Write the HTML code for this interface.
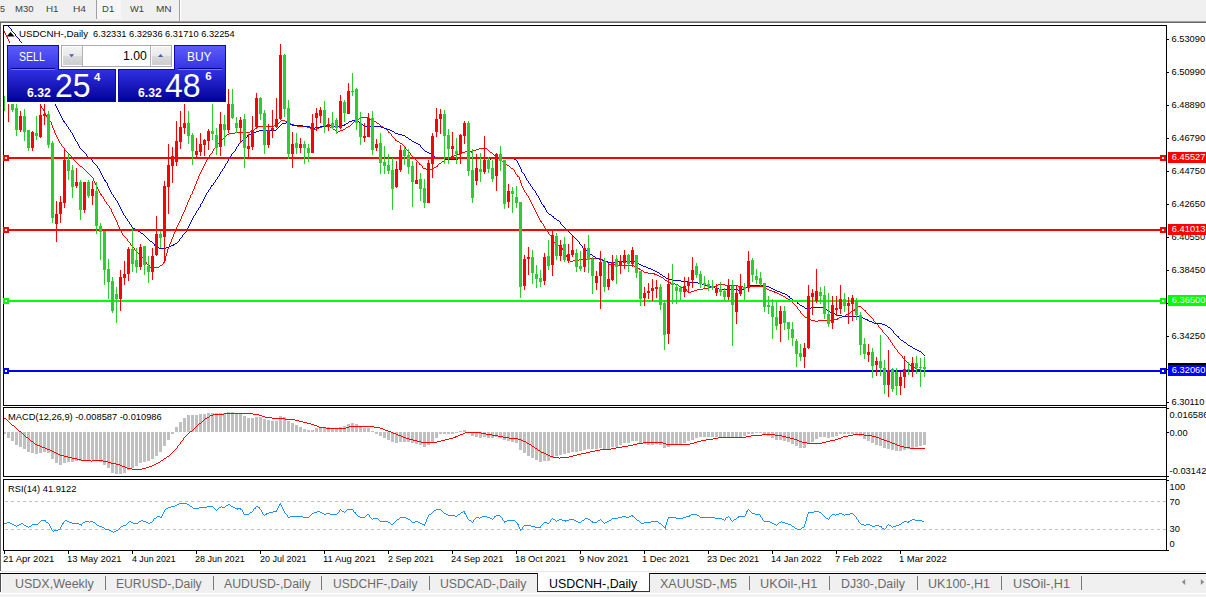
<!DOCTYPE html><html><head><meta charset="utf-8"><title>chart</title><style>
html,body{margin:0;padding:0;}
body{width:1206px;height:597px;overflow:hidden;background:#f0f0f0;font-family:"Liberation Sans",sans-serif;position:relative;}
.t{position:absolute;white-space:nowrap;line-height:1;}
.tb{font-size:9.3px;color:#404040;top:5.4px;}
.ax{font-size:9.3px;color:#000;left:1171.5px;}
.dt{font-size:9.2px;color:#000;top:555.4px;}
.tab{font-size:12px;color:#6a6a6a;top:578.4px;}
.sep{position:absolute;top:576px;width:1px;height:14px;background:#777;}
svg{position:absolute;left:0;top:0;}
</style></head><body>
<div style="position:absolute;left:0;top:0;width:1206px;height:21px;background:#f0f0f0"></div>
<div style="position:absolute;left:97px;top:0;width:24px;height:19px;background:#f6f6f6"></div>
<div style="position:absolute;left:96px;top:0;width:1px;height:19px;background:#a0a0a0"></div>
<div style="position:absolute;left:179px;top:0;width:1px;height:21px;background:#a0a0a0"></div>
<div style="position:absolute;left:180px;top:0;width:1px;height:21px;background:#fff"></div>
<div class="t" style="left:0.3px;top:5.4px;font-size:9.3px;color:#404040;transform-origin:0 0;transform:scaleX(0.9651);">5</div>
<div class="t" style="left:15.05px;top:5.4px;font-size:9.3px;color:#404040;transform-origin:0 0;transform:scaleX(1.0265);">M30</div>
<div class="t" style="left:46.05px;top:5.4px;font-size:9.3px;color:#404040;transform-origin:0 0;transform:scaleX(1.0561);">H1</div>
<div class="t" style="left:73.05px;top:5.4px;font-size:9.3px;color:#404040;transform-origin:0 0;transform:scaleX(1.0935);">H4</div>
<div class="t" style="left:102.15px;top:5.4px;font-size:9.3px;color:#404040;transform-origin:0 0;transform:scaleX(1.0281);">D1</div>
<div class="t" style="left:130.2px;top:5.4px;font-size:9.3px;color:#404040;transform-origin:0 0;transform:scaleX(1.0074);">W1</div>
<div class="t" style="left:156.25px;top:5.4px;font-size:9.3px;color:#404040;transform-origin:0 0;transform:scaleX(1.0809);">MN</div>
<div style="position:absolute;left:0;top:21px;width:1206px;height:1px;background:#a0a0a0"></div>
<div style="position:absolute;left:0;top:22px;width:1206px;height:1px;background:#696969"></div>
<div style="position:absolute;left:1px;top:23px;width:1205px;height:548px;background:#fff"></div>
<div style="position:absolute;left:0;top:22px;width:1px;height:549px;background:#696969"></div>
<svg width="1206" height="597" viewBox="0 0 1206 597" shape-rendering="crispEdges">
<rect x="3" y="25" width="1164" height="1" fill="#000"/>
<rect x="3" y="25" width="1" height="381" fill="#000"/>
<rect x="3" y="405" width="1164" height="1" fill="#000"/>
<rect x="1166" y="25" width="1" height="526" fill="#000"/>
<rect x="3" y="407" width="1164" height="1" fill="#000"/>
<rect x="3" y="407" width="1" height="70" fill="#000"/>
<rect x="3" y="476" width="1164" height="1" fill="#000"/>
<rect x="3" y="479" width="1164" height="1" fill="#000"/>
<rect x="3" y="479" width="1" height="72" fill="#000"/>
<rect x="3" y="550" width="1164" height="1" fill="#000"/>
<rect x="1167" y="39" width="2" height="1" fill="#000"/>
<rect x="1167" y="72" width="2" height="1" fill="#000"/>
<rect x="1167" y="105" width="2" height="1" fill="#000"/>
<rect x="1167" y="138" width="2" height="1" fill="#000"/>
<rect x="1167" y="171" width="2" height="1" fill="#000"/>
<rect x="1167" y="204" width="2" height="1" fill="#000"/>
<rect x="1167" y="237" width="2" height="1" fill="#000"/>
<rect x="1167" y="270" width="2" height="1" fill="#000"/>
<rect x="1167" y="303" width="2" height="1" fill="#000"/>
<rect x="1167" y="336" width="2" height="1" fill="#000"/>
<rect x="1167" y="369" width="2" height="1" fill="#000"/>
<rect x="1167" y="402" width="2" height="1" fill="#000"/>
<rect x="1167" y="408" width="2" height="1" fill="#000"/>
<rect x="1167" y="432" width="2" height="1" fill="#000"/>
<rect x="1167" y="476" width="2" height="1" fill="#000"/>
<rect x="1167" y="480" width="2" height="1" fill="#000"/>
<rect x="1167" y="550" width="2" height="1" fill="#000"/>
<rect x="4" y="551" width="1" height="3" fill="#000"/>
<rect x="68" y="551" width="1" height="3" fill="#000"/>
<rect x="132" y="551" width="1" height="3" fill="#000"/>
<rect x="196" y="551" width="1" height="3" fill="#000"/>
<rect x="260" y="551" width="1" height="3" fill="#000"/>
<rect x="324" y="551" width="1" height="3" fill="#000"/>
<rect x="388" y="551" width="1" height="3" fill="#000"/>
<rect x="452" y="551" width="1" height="3" fill="#000"/>
<rect x="516" y="551" width="1" height="3" fill="#000"/>
<rect x="580" y="551" width="1" height="3" fill="#000"/>
<rect x="644" y="551" width="1" height="3" fill="#000"/>
<rect x="708" y="551" width="1" height="3" fill="#000"/>
<rect x="772" y="551" width="1" height="3" fill="#000"/>
<rect x="836" y="551" width="1" height="3" fill="#000"/>
<rect x="900" y="551" width="1" height="3" fill="#000"/>
<clipPath id="cm"><rect x="4" y="26" width="1162" height="379"/></clipPath>
<path d="M4 31h1v1h-1zM4 32h1v1h-1zM5 33h1v1h-1zM5 34h1v1h-1zM6 35h1v1h-1zM6 36h1v1h-1zM7 37h1v1h-1zM7 38h1v1h-1zM8 39h1v1h-1zM8 40h1v1h-1zM9 41h1v1h-1zM9 42h1v1h-1zM10 43h1v1h-1zM10 44h1v1h-1zM11 45h1v1h-1zM11 46h1v1h-1zM12 47h1v1h-1zM12 48h1v1h-1zM13 49h1v1h-1zM13 50h1v1h-1zM14 51h1v1h-1zM14 52h1v1h-1zM15 53h1v1h-1zM15 54h1v1h-1zM16 55h1v1h-1zM16 56h1v1h-1zM17 57h1v1h-1zM17 58h1v1h-1zM18 59h1v1h-1zM18 60h1v1h-1zM19 61h1v1h-1zM19 62h1v1h-1zM20 63h1v1h-1zM20 64h1v1h-1zM21 65h1v1h-1zM21 66h1v1h-1zM21 67h1v1h-1zM22 68h1v1h-1zM22 69h1v1h-1zM23 70h1v1h-1zM23 71h1v1h-1zM24 72h1v1h-1zM24 73h1v1h-1zM25 74h1v1h-1zM25 75h1v1h-1zM26 76h1v1h-1zM26 77h1v1h-1zM27 78h1v1h-1zM27 79h1v1h-1zM28 80h1v1h-1zM28 81h1v1h-1zM29 82h1v1h-1zM29 83h1v1h-1zM30 84h1v1h-1zM30 85h1v1h-1zM31 86h1v1h-1zM31 87h1v1h-1zM32 88h1v1h-1zM32 89h1v1h-1zM33 90h1v1h-1zM33 91h1v1h-1zM34 92h1v1h-1zM34 93h1v1h-1zM35 94h1v1h-1zM35 95h1v1h-1zM36 96h1v1h-1zM36 97h1v1h-1zM37 98h1v1h-1zM37 99h1v1h-1zM38 100h1v1h-1zM38 101h1v1h-1zM39 102h1v1h-1zM39 103h1v1h-1zM40 104h1v1h-1zM40 105h1v1h-1zM41 106h1v1h-1zM41 107h1v1h-1zM42 108h1v1h-1zM43 109h1v1h-1zM43 110h1v1h-1zM44 111h1v1h-1zM44 112h1v1h-1zM45 113h1v1h-1zM45 114h1v1h-1zM46 115h1v1h-1zM46 116h1v1h-1zM47 117h1v1h-1zM361 117h8v1h-8zM48 118h1v1h-1zM359 118h2v1h-2zM369 118h1v1h-1zM48 119h1v1h-1zM356 119h3v1h-3zM370 119h2v1h-2zM49 120h1v1h-1zM281 120h4v1h-4zM355 120h1v1h-1zM372 120h2v1h-2zM50 121h1v1h-1zM280 121h1v1h-1zM285 121h3v1h-3zM354 121h1v1h-1zM374 121h2v1h-2zM51 122h1v1h-1zM279 122h1v1h-1zM288 122h2v1h-2zM353 122h1v1h-1zM376 122h1v1h-1zM51 123h1v1h-1zM278 123h1v1h-1zM290 123h1v1h-1zM352 123h1v1h-1zM377 123h2v1h-2zM51 124h1v1h-1zM276 124h2v1h-2zM291 124h3v1h-3zM351 124h1v1h-1zM379 124h1v1h-1zM52 125h1v1h-1zM274 125h2v1h-2zM294 125h3v1h-3zM350 125h1v1h-1zM380 125h1v1h-1zM52 126h1v1h-1zM257 126h17v1h-17zM297 126h10v1h-10zM322 126h8v1h-8zM348 126h2v1h-2zM381 126h2v1h-2zM52 127h1v1h-1zM257 127h1v1h-1zM307 127h3v1h-3zM319 127h3v1h-3zM330 127h2v1h-2zM346 127h2v1h-2zM383 127h1v1h-1zM53 128h1v1h-1zM255 128h2v1h-2zM310 128h3v1h-3zM316 128h3v1h-3zM332 128h1v1h-1zM345 128h1v1h-1zM384 128h2v1h-2zM53 129h1v1h-1zM254 129h1v1h-1zM313 129h3v1h-3zM333 129h2v1h-2zM343 129h2v1h-2zM386 129h1v1h-1zM54 130h1v1h-1zM252 130h2v1h-2zM335 130h1v1h-1zM340 130h3v1h-3zM387 130h1v1h-1zM54 131h1v1h-1zM250 131h2v1h-2zM336 131h1v1h-1zM338 131h2v1h-2zM388 131h1v1h-1zM54 132h1v1h-1zM235 132h15v1h-15zM337 132h1v1h-1zM388 132h2v1h-2zM55 133h1v1h-1zM229 133h6v1h-6zM390 133h1v1h-1zM55 134h1v1h-1zM227 134h2v1h-2zM391 134h1v1h-1zM56 135h1v1h-1zM226 135h1v1h-1zM391 135h1v1h-1zM56 136h1v1h-1zM225 136h1v1h-1zM392 136h1v1h-1zM57 137h1v1h-1zM224 137h1v1h-1zM393 137h1v1h-1zM57 138h1v1h-1zM223 138h1v1h-1zM394 138h1v1h-1zM58 139h1v1h-1zM222 139h1v1h-1zM395 139h1v1h-1zM58 140h1v1h-1zM221 140h1v1h-1zM395 140h2v1h-2zM59 141h1v1h-1zM220 141h1v1h-1zM397 141h2v1h-2zM59 142h1v1h-1zM219 142h1v1h-1zM399 142h1v1h-1zM60 143h1v1h-1zM218 143h1v1h-1zM400 143h2v1h-2zM61 144h1v1h-1zM217 144h1v1h-1zM402 144h1v1h-1zM61 145h1v1h-1zM216 145h1v1h-1zM403 145h1v1h-1zM62 146h1v1h-1zM215 146h1v1h-1zM404 146h1v1h-1zM63 147h1v1h-1zM215 147h1v1h-1zM405 147h1v1h-1zM64 148h1v1h-1zM214 148h1v1h-1zM405 148h1v1h-1zM479 148h8v1h-8zM64 149h1v1h-1zM213 149h1v1h-1zM406 149h1v1h-1zM476 149h3v1h-3zM487 149h1v1h-1zM65 150h1v1h-1zM213 150h1v1h-1zM407 150h1v1h-1zM473 150h3v1h-3zM488 150h1v1h-1zM66 151h1v1h-1zM212 151h1v1h-1zM408 151h1v1h-1zM465 151h8v1h-8zM489 151h1v1h-1zM67 152h1v1h-1zM212 152h1v1h-1zM409 152h1v1h-1zM462 152h3v1h-3zM471 152h1v1h-1zM490 152h2v1h-2zM68 153h1v1h-1zM211 153h1v1h-1zM410 153h1v1h-1zM460 153h2v1h-2zM492 153h1v1h-1zM69 154h1v1h-1zM210 154h1v1h-1zM410 154h1v1h-1zM456 154h4v1h-4zM493 154h1v1h-1zM70 155h1v1h-1zM209 155h1v1h-1zM411 155h1v1h-1zM454 155h2v1h-2zM494 155h1v1h-1zM71 156h1v1h-1zM209 156h1v1h-1zM412 156h1v1h-1zM451 156h3v1h-3zM495 156h2v1h-2zM72 157h1v1h-1zM208 157h1v1h-1zM413 157h1v1h-1zM449 157h2v1h-2zM497 157h1v1h-1zM72 158h1v1h-1zM207 158h1v1h-1zM414 158h1v1h-1zM447 158h2v1h-2zM498 158h2v1h-2zM73 159h1v1h-1zM207 159h1v1h-1zM415 159h1v1h-1zM445 159h2v1h-2zM500 159h1v1h-1zM74 160h1v1h-1zM206 160h1v1h-1zM416 160h1v1h-1zM444 160h1v1h-1zM501 160h1v1h-1zM75 161h1v1h-1zM206 161h1v1h-1zM417 161h1v1h-1zM442 161h2v1h-2zM502 161h2v1h-2zM76 162h1v1h-1zM205 162h1v1h-1zM418 162h1v1h-1zM441 162h1v1h-1zM504 162h1v1h-1zM77 163h1v1h-1zM205 163h1v1h-1zM419 163h1v1h-1zM439 163h2v1h-2zM505 163h1v1h-1zM78 164h1v1h-1zM204 164h1v1h-1zM419 164h2v1h-2zM438 164h1v1h-1zM506 164h1v1h-1zM79 165h1v1h-1zM204 165h1v1h-1zM421 165h1v1h-1zM437 165h1v1h-1zM507 165h2v1h-2zM80 166h2v1h-2zM203 166h1v1h-1zM422 166h1v1h-1zM436 166h2v1h-2zM509 166h1v1h-1zM82 167h1v1h-1zM203 167h1v1h-1zM422 167h1v1h-1zM434 167h2v1h-2zM510 167h1v1h-1zM83 168h1v1h-1zM202 168h1v1h-1zM423 168h3v1h-3zM432 168h2v1h-2zM511 168h2v1h-2zM84 169h1v1h-1zM202 169h1v1h-1zM426 169h6v1h-6zM513 169h1v1h-1zM85 170h1v1h-1zM201 170h1v1h-1zM514 170h1v1h-1zM86 171h1v1h-1zM201 171h1v1h-1zM514 171h1v1h-1zM87 172h1v1h-1zM200 172h1v1h-1zM515 172h1v1h-1zM88 173h1v1h-1zM200 173h1v1h-1zM515 173h1v1h-1zM89 174h1v1h-1zM199 174h1v1h-1zM516 174h1v1h-1zM90 175h1v1h-1zM199 175h1v1h-1zM517 175h1v1h-1zM91 176h1v1h-1zM198 176h1v1h-1zM517 176h2v1h-2zM92 177h1v1h-1zM198 177h1v1h-1zM519 177h1v1h-1zM93 178h1v1h-1zM198 178h1v1h-1zM519 178h1v1h-1zM93 179h1v1h-1zM197 179h1v1h-1zM519 179h1v1h-1zM93 180h1v1h-1zM197 180h1v1h-1zM520 180h1v1h-1zM94 181h1v1h-1zM196 181h1v1h-1zM520 181h1v1h-1zM94 182h1v1h-1zM196 182h1v1h-1zM520 182h1v1h-1zM95 183h1v1h-1zM196 183h1v1h-1zM521 183h1v1h-1zM95 184h1v1h-1zM195 184h1v1h-1zM521 184h1v1h-1zM96 185h1v1h-1zM195 185h1v1h-1zM521 185h1v1h-1zM96 186h1v1h-1zM194 186h1v1h-1zM522 186h1v1h-1zM97 187h1v1h-1zM194 187h1v1h-1zM522 187h1v1h-1zM97 188h1v1h-1zM194 188h1v1h-1zM523 188h1v1h-1zM98 189h1v1h-1zM193 189h1v1h-1zM523 189h1v1h-1zM98 190h1v1h-1zM193 190h1v1h-1zM524 190h1v1h-1zM99 191h1v1h-1zM192 191h1v1h-1zM524 191h1v1h-1zM99 192h1v1h-1zM192 192h1v1h-1zM525 192h1v1h-1zM100 193h1v1h-1zM192 193h1v1h-1zM526 193h1v1h-1zM100 194h2v1h-2zM191 194h1v1h-1zM526 194h1v1h-1zM101 195h1v1h-1zM190 195h1v1h-1zM527 195h1v1h-1zM102 196h1v1h-1zM190 196h1v1h-1zM528 196h1v1h-1zM103 197h1v1h-1zM190 197h1v1h-1zM528 197h1v1h-1zM103 198h1v1h-1zM189 198h1v1h-1zM529 198h1v1h-1zM104 199h1v1h-1zM189 199h1v1h-1zM529 199h1v1h-1zM104 200h1v1h-1zM188 200h1v1h-1zM530 200h1v1h-1zM105 201h1v1h-1zM188 201h1v1h-1zM530 201h1v1h-1zM106 202h1v1h-1zM187 202h1v1h-1zM531 202h1v1h-1zM106 203h1v1h-1zM187 203h1v1h-1zM531 203h1v1h-1zM107 204h1v1h-1zM187 204h1v1h-1zM532 204h1v1h-1zM108 205h1v1h-1zM186 205h1v1h-1zM532 205h1v1h-1zM109 206h1v1h-1zM186 206h1v1h-1zM533 206h1v1h-1zM109 207h1v1h-1zM185 207h1v1h-1zM533 207h1v1h-1zM110 208h1v1h-1zM185 208h1v1h-1zM534 208h1v1h-1zM111 209h1v1h-1zM185 209h1v1h-1zM534 209h1v1h-1zM111 210h1v1h-1zM184 210h1v1h-1zM535 210h1v1h-1zM111 211h1v1h-1zM184 211h1v1h-1zM535 211h1v1h-1zM112 212h1v1h-1zM183 212h1v1h-1zM536 212h1v1h-1zM112 213h1v1h-1zM183 213h1v1h-1zM536 213h1v1h-1zM113 214h1v1h-1zM182 214h1v1h-1zM537 214h1v1h-1zM113 215h1v1h-1zM182 215h1v1h-1zM537 215h1v1h-1zM114 216h1v1h-1zM181 216h1v1h-1zM538 216h1v1h-1zM114 217h1v1h-1zM181 217h1v1h-1zM538 217h1v1h-1zM115 218h1v1h-1zM181 218h1v1h-1zM539 218h1v1h-1zM115 219h1v1h-1zM180 219h1v1h-1zM539 219h1v1h-1zM116 220h1v1h-1zM180 220h1v1h-1zM540 220h1v1h-1zM116 221h1v1h-1zM179 221h1v1h-1zM540 221h2v1h-2zM117 222h1v1h-1zM179 222h1v1h-1zM541 222h1v1h-1zM117 223h1v1h-1zM178 223h1v1h-1zM542 223h1v1h-1zM117 224h1v1h-1zM178 224h1v1h-1zM543 224h1v1h-1zM118 225h1v1h-1zM177 225h1v1h-1zM543 225h1v1h-1zM118 226h1v1h-1zM177 226h1v1h-1zM544 226h1v1h-1zM119 227h1v1h-1zM176 227h1v1h-1zM544 227h1v1h-1zM119 228h1v1h-1zM176 228h1v1h-1zM545 228h1v1h-1zM119 229h1v1h-1zM175 229h1v1h-1zM546 229h1v1h-1zM120 230h1v1h-1zM175 230h1v1h-1zM546 230h1v1h-1zM121 231h1v1h-1zM175 231h1v1h-1zM547 231h1v1h-1zM121 232h1v1h-1zM174 232h1v1h-1zM548 232h1v1h-1zM122 233h1v1h-1zM174 233h1v1h-1zM548 233h1v1h-1zM122 234h1v1h-1zM173 234h1v1h-1zM549 234h1v1h-1zM123 235h1v1h-1zM173 235h1v1h-1zM550 235h1v1h-1zM124 236h1v1h-1zM173 236h1v1h-1zM551 236h1v1h-1zM125 237h1v1h-1zM172 237h1v1h-1zM551 237h1v1h-1zM126 238h1v1h-1zM172 238h1v1h-1zM552 238h1v1h-1zM127 239h1v1h-1zM171 239h1v1h-1zM552 239h1v1h-1zM127 240h1v1h-1zM171 240h1v1h-1zM553 240h1v1h-1zM128 241h1v1h-1zM171 241h1v1h-1zM553 241h1v1h-1zM129 242h1v1h-1zM170 242h1v1h-1zM554 242h1v1h-1zM130 243h1v1h-1zM170 243h1v1h-1zM555 243h2v1h-2zM130 244h1v1h-1zM169 244h1v1h-1zM557 244h1v1h-1zM131 245h1v1h-1zM169 245h1v1h-1zM558 245h2v1h-2zM132 246h1v1h-1zM169 246h1v1h-1zM560 246h2v1h-2zM133 247h1v1h-1zM168 247h1v1h-1zM561 247h1v1h-1zM134 248h1v1h-1zM168 248h1v1h-1zM562 248h1v1h-1zM134 249h1v1h-1zM167 249h1v1h-1zM562 249h1v1h-1zM135 250h1v1h-1zM167 250h1v1h-1zM563 250h1v1h-1zM136 251h1v1h-1zM167 251h1v1h-1zM564 251h1v1h-1zM137 252h1v1h-1zM167 252h1v1h-1zM564 252h1v1h-1zM138 253h1v1h-1zM166 253h1v1h-1zM565 253h1v1h-1zM139 254h1v1h-1zM166 254h1v1h-1zM565 254h1v1h-1zM140 255h1v1h-1zM166 255h1v1h-1zM566 255h1v1h-1zM141 256h1v1h-1zM165 256h1v1h-1zM566 256h1v1h-1zM142 257h2v1h-2zM165 257h1v1h-1zM567 257h1v1h-1zM143 258h1v1h-1zM165 258h1v1h-1zM567 258h2v1h-2zM587 258h13v1h-13zM144 259h1v1h-1zM165 259h1v1h-1zM568 259h1v1h-1zM579 259h9v1h-9zM600 259h3v1h-3zM144 260h1v1h-1zM165 260h1v1h-1zM569 260h1v1h-1zM573 260h6v1h-6zM603 260h2v1h-2zM145 261h1v1h-1zM164 261h1v1h-1zM570 261h3v1h-3zM605 261h2v1h-2zM146 262h1v1h-1zM163 262h2v1h-2zM607 262h1v1h-1zM146 263h1v1h-1zM163 263h1v1h-1zM608 263h1v1h-1zM147 264h1v1h-1zM162 264h1v1h-1zM608 264h9v1h-9zM148 265h2v1h-2zM160 265h2v1h-2zM617 265h17v1h-17zM149 266h1v1h-1zM159 266h1v1h-1zM634 266h2v1h-2zM150 267h9v1h-9zM636 267h2v1h-2zM638 268h2v1h-2zM639 269h2v1h-2zM641 270h2v1h-2zM643 271h1v1h-1zM644 272h4v1h-4zM648 273h7v1h-7zM654 274h3v1h-3zM657 275h2v1h-2zM659 276h2v1h-2zM661 277h2v1h-2zM663 278h1v1h-1zM664 279h1v1h-1zM665 280h2v1h-2zM667 281h2v1h-2zM669 282h2v1h-2zM670 283h5v1h-5zM675 284h3v1h-3zM718 284h7v1h-7zM678 285h1v1h-1zM716 285h2v1h-2zM725 285h13v1h-13zM679 286h2v1h-2zM713 286h3v1h-3zM738 286h5v1h-5zM748 286h16v1h-16zM681 287h2v1h-2zM709 287h4v1h-4zM743 287h5v1h-5zM764 287h1v1h-1zM683 288h2v1h-2zM703 288h6v1h-6zM765 288h2v1h-2zM685 289h2v1h-2zM697 289h6v1h-6zM767 289h2v1h-2zM686 290h1v1h-1zM694 290h3v1h-3zM769 290h3v1h-3zM687 291h2v1h-2zM691 291h3v1h-3zM772 291h3v1h-3zM688 292h3v1h-3zM774 292h3v1h-3zM777 293h2v1h-2zM779 294h2v1h-2zM781 295h2v1h-2zM783 296h2v1h-2zM785 297h1v1h-1zM786 298h2v1h-2zM788 299h2v1h-2zM790 300h1v1h-1zM791 301h2v1h-2zM792 302h1v1h-1zM793 303h1v1h-1zM794 304h1v1h-1zM795 305h1v1h-1zM796 306h1v1h-1zM856 306h5v1h-5zM797 307h1v1h-1zM855 307h1v1h-1zM861 307h1v1h-1zM797 308h1v1h-1zM855 308h1v1h-1zM862 308h1v1h-1zM798 309h1v1h-1zM854 309h1v1h-1zM863 309h1v1h-1zM799 310h1v1h-1zM853 310h2v1h-2zM864 310h2v1h-2zM800 311h1v1h-1zM851 311h2v1h-2zM865 311h1v1h-1zM800 312h1v1h-1zM850 312h1v1h-1zM866 312h1v1h-1zM801 313h1v1h-1zM848 313h2v1h-2zM867 313h1v1h-1zM802 314h1v1h-1zM846 314h2v1h-2zM868 314h1v1h-1zM803 315h1v1h-1zM845 315h1v1h-1zM869 315h1v1h-1zM804 316h1v1h-1zM842 316h3v1h-3zM870 316h1v1h-1zM805 317h2v1h-2zM839 317h3v1h-3zM871 317h1v1h-1zM807 318h1v1h-1zM837 318h2v1h-2zM872 318h1v1h-1zM808 319h3v1h-3zM831 319h7v1h-7zM873 319h1v1h-1zM811 320h4v1h-4zM818 320h13v1h-13zM873 320h1v1h-1zM815 321h3v1h-3zM874 321h1v1h-1zM875 322h1v1h-1zM876 323h1v1h-1zM877 324h1v1h-1zM878 325h1v1h-1zM878 326h1v1h-1zM879 327h1v1h-1zM880 328h1v1h-1zM881 329h1v1h-1zM882 330h1v1h-1zM882 331h1v1h-1zM883 332h1v1h-1zM884 333h1v1h-1zM885 334h1v1h-1zM886 335h1v1h-1zM887 336h1v1h-1zM888 337h1v1h-1zM888 338h1v1h-1zM889 339h1v1h-1zM890 340h1v1h-1zM890 341h1v1h-1zM891 342h1v1h-1zM892 343h1v1h-1zM892 344h1v1h-1zM893 345h1v1h-1zM894 346h1v1h-1zM894 347h1v1h-1zM895 348h1v1h-1zM896 349h1v1h-1zM897 350h1v1h-1zM897 351h1v1h-1zM898 352h1v1h-1zM899 353h1v1h-1zM900 354h1v1h-1zM901 355h1v1h-1zM902 356h1v1h-1zM902 357h1v1h-1zM903 358h1v1h-1zM904 359h1v1h-1zM905 360h1v1h-1zM906 361h1v1h-1zM907 362h1v1h-1zM908 363h1v1h-1zM909 364h1v1h-1zM910 365h1v1h-1zM911 366h1v1h-1zM912 367h3v1h-3zM915 368h2v1h-2zM917 369h4v1h-4z" fill="#ff0000"/>
<path d="M8 26h1v1h-1zM9 27h1v1h-1zM10 28h1v1h-1zM11 29h1v1h-1zM11 30h1v1h-1zM12 31h1v1h-1zM13 32h1v1h-1zM14 33h1v1h-1zM15 34h1v1h-1zM15 35h1v1h-1zM16 36h1v1h-1zM17 37h1v1h-1zM18 38h1v1h-1zM19 39h1v1h-1zM19 40h1v1h-1zM20 41h1v1h-1zM21 42h1v1h-1zM21 43h1v1h-1zM22 44h1v1h-1zM23 45h1v1h-1zM23 46h1v1h-1zM24 47h1v1h-1zM24 48h1v1h-1zM25 49h1v1h-1zM25 50h1v1h-1zM26 51h1v1h-1zM26 52h1v1h-1zM27 53h1v1h-1zM27 54h1v1h-1zM28 55h1v1h-1zM29 56h1v1h-1zM29 57h1v1h-1zM30 58h1v1h-1zM30 59h1v1h-1zM31 60h1v1h-1zM31 61h1v1h-1zM32 62h1v1h-1zM32 63h1v1h-1zM33 64h1v1h-1zM33 65h1v1h-1zM34 66h1v1h-1zM35 67h1v1h-1zM35 68h1v1h-1zM36 69h1v1h-1zM36 70h1v1h-1zM37 71h1v1h-1zM37 72h1v1h-1zM38 73h1v1h-1zM38 74h1v1h-1zM39 75h1v1h-1zM39 76h1v1h-1zM40 77h1v1h-1zM41 78h1v1h-1zM41 79h1v1h-1zM42 80h1v1h-1zM42 81h1v1h-1zM43 82h1v1h-1zM43 83h1v1h-1zM44 84h1v1h-1zM44 85h1v1h-1zM45 86h1v1h-1zM46 87h1v1h-1zM46 88h1v1h-1zM47 89h1v1h-1zM47 90h1v1h-1zM48 91h1v1h-1zM48 92h1v1h-1zM49 93h1v1h-1zM49 94h1v1h-1zM50 95h1v1h-1zM50 96h1v1h-1zM51 97h1v1h-1zM52 98h1v1h-1zM52 99h1v1h-1zM53 100h1v1h-1zM53 101h1v1h-1zM54 102h1v1h-1zM54 103h1v1h-1zM55 104h1v1h-1zM55 105h1v1h-1zM56 106h1v1h-1zM56 107h1v1h-1zM57 108h1v1h-1zM57 109h1v1h-1zM58 110h1v1h-1zM58 111h1v1h-1zM59 112h1v1h-1zM59 113h1v1h-1zM60 114h1v1h-1zM60 115h1v1h-1zM61 116h1v1h-1zM61 117h1v1h-1zM62 118h1v1h-1zM62 119h1v1h-1zM63 120h1v1h-1zM352 120h5v1h-5zM63 121h2v1h-2zM349 121h3v1h-3zM357 121h2v1h-2zM64 122h1v1h-1zM286 122h1v1h-1zM348 122h1v1h-1zM359 122h2v1h-2zM65 123h1v1h-1zM282 123h4v1h-4zM287 123h3v1h-3zM346 123h2v1h-2zM361 123h1v1h-1zM66 124h1v1h-1zM281 124h1v1h-1zM290 124h3v1h-3zM344 124h2v1h-2zM362 124h1v1h-1zM66 125h1v1h-1zM280 125h1v1h-1zM292 125h11v1h-11zM326 125h8v1h-8zM340 125h5v1h-5zM363 125h1v1h-1zM67 126h1v1h-1zM279 126h1v1h-1zM303 126h7v1h-7zM320 126h6v1h-6zM334 126h6v1h-6zM364 126h17v1h-17zM68 127h1v1h-1zM278 127h1v1h-1zM310 127h4v1h-4zM315 127h5v1h-5zM381 127h3v1h-3zM68 128h1v1h-1zM277 128h1v1h-1zM314 128h1v1h-1zM384 128h3v1h-3zM69 129h1v1h-1zM276 129h1v1h-1zM387 129h3v1h-3zM70 130h1v1h-1zM259 130h17v1h-17zM390 130h2v1h-2zM70 131h1v1h-1zM256 131h3v1h-3zM392 131h2v1h-2zM71 132h1v1h-1zM254 132h2v1h-2zM394 132h1v1h-1zM72 133h1v1h-1zM251 133h3v1h-3zM395 133h3v1h-3zM72 134h1v1h-1zM249 134h2v1h-2zM398 134h4v1h-4zM73 135h1v1h-1zM247 135h2v1h-2zM402 135h3v1h-3zM73 136h1v1h-1zM247 136h1v1h-1zM405 136h1v1h-1zM74 137h1v1h-1zM246 137h1v1h-1zM406 137h2v1h-2zM74 138h1v1h-1zM245 138h1v1h-1zM408 138h1v1h-1zM75 139h1v1h-1zM243 139h2v1h-2zM409 139h2v1h-2zM75 140h1v1h-1zM242 140h1v1h-1zM411 140h1v1h-1zM76 141h1v1h-1zM241 141h1v1h-1zM412 141h2v1h-2zM77 142h1v1h-1zM240 142h1v1h-1zM414 142h2v1h-2zM77 143h1v1h-1zM239 143h1v1h-1zM416 143h2v1h-2zM78 144h1v1h-1zM238 144h1v1h-1zM418 144h2v1h-2zM78 145h1v1h-1zM238 145h1v1h-1zM420 145h1v1h-1zM79 146h1v1h-1zM237 146h1v1h-1zM420 146h1v1h-1zM79 147h1v1h-1zM236 147h1v1h-1zM421 147h1v1h-1zM80 148h1v1h-1zM236 148h1v1h-1zM422 148h1v1h-1zM81 149h1v1h-1zM235 149h1v1h-1zM423 149h1v1h-1zM82 150h1v1h-1zM235 150h1v1h-1zM424 150h1v1h-1zM83 151h1v1h-1zM234 151h1v1h-1zM425 151h2v1h-2zM84 152h1v1h-1zM233 152h1v1h-1zM427 152h2v1h-2zM85 153h1v1h-1zM232 153h1v1h-1zM429 153h2v1h-2zM86 154h1v1h-1zM231 154h1v1h-1zM431 154h1v1h-1zM86 155h1v1h-1zM231 155h1v1h-1zM432 155h1v1h-1zM87 156h1v1h-1zM230 156h1v1h-1zM433 156h2v1h-2zM88 157h2v1h-2zM230 157h1v1h-1zM435 157h5v1h-5zM462 157h23v1h-23zM90 158h1v1h-1zM229 158h1v1h-1zM440 158h5v1h-5zM458 158h4v1h-4zM485 158h5v1h-5zM491 158h24v1h-24zM91 159h1v1h-1zM228 159h1v1h-1zM445 159h13v1h-13zM490 159h1v1h-1zM514 159h2v1h-2zM92 160h1v1h-1zM228 160h1v1h-1zM516 160h1v1h-1zM92 161h1v1h-1zM227 161h1v1h-1zM517 161h1v1h-1zM93 162h1v1h-1zM227 162h1v1h-1zM517 162h1v1h-1zM94 163h1v1h-1zM226 163h1v1h-1zM518 163h1v1h-1zM95 164h1v1h-1zM225 164h1v1h-1zM518 164h1v1h-1zM96 165h1v1h-1zM225 165h1v1h-1zM519 165h1v1h-1zM97 166h1v1h-1zM224 166h1v1h-1zM519 166h1v1h-1zM97 167h1v1h-1zM224 167h1v1h-1zM520 167h1v1h-1zM98 168h1v1h-1zM223 168h1v1h-1zM520 168h1v1h-1zM99 169h1v1h-1zM222 169h1v1h-1zM521 169h1v1h-1zM99 170h1v1h-1zM222 170h1v1h-1zM521 170h1v1h-1zM100 171h1v1h-1zM221 171h1v1h-1zM521 171h1v1h-1zM100 172h1v1h-1zM220 172h1v1h-1zM522 172h1v1h-1zM101 173h1v1h-1zM220 173h1v1h-1zM523 173h1v1h-1zM101 174h1v1h-1zM219 174h1v1h-1zM524 174h1v1h-1zM102 175h1v1h-1zM219 175h1v1h-1zM524 175h1v1h-1zM102 176h1v1h-1zM218 176h1v1h-1zM525 176h1v1h-1zM103 177h1v1h-1zM217 177h1v1h-1zM525 177h1v1h-1zM103 178h1v1h-1zM217 178h1v1h-1zM526 178h1v1h-1zM104 179h1v1h-1zM216 179h1v1h-1zM526 179h1v1h-1zM104 180h2v1h-2zM215 180h1v1h-1zM527 180h1v1h-1zM105 181h1v1h-1zM215 181h1v1h-1zM528 181h1v1h-1zM106 182h1v1h-1zM214 182h1v1h-1zM528 182h1v1h-1zM107 183h1v1h-1zM213 183h1v1h-1zM529 183h1v1h-1zM107 184h1v1h-1zM213 184h1v1h-1zM530 184h1v1h-1zM107 185h1v1h-1zM211 185h2v1h-2zM530 185h1v1h-1zM108 186h1v1h-1zM211 186h1v1h-1zM531 186h1v1h-1zM108 187h1v1h-1zM210 187h1v1h-1zM532 187h1v1h-1zM109 188h1v1h-1zM210 188h1v1h-1zM532 188h1v1h-1zM109 189h1v1h-1zM209 189h1v1h-1zM533 189h1v1h-1zM110 190h1v1h-1zM208 190h1v1h-1zM534 190h1v1h-1zM110 191h1v1h-1zM208 191h1v1h-1zM535 191h1v1h-1zM111 192h1v1h-1zM207 192h1v1h-1zM535 192h1v1h-1zM111 193h1v1h-1zM206 193h1v1h-1zM536 193h1v1h-1zM112 194h1v1h-1zM206 194h1v1h-1zM536 194h1v1h-1zM113 195h1v1h-1zM205 195h1v1h-1zM537 195h1v1h-1zM113 196h1v1h-1zM205 196h1v1h-1zM538 196h1v1h-1zM114 197h1v1h-1zM204 197h1v1h-1zM538 197h1v1h-1zM115 198h1v1h-1zM204 198h1v1h-1zM539 198h1v1h-1zM115 199h1v1h-1zM203 199h1v1h-1zM539 199h1v1h-1zM116 200h1v1h-1zM203 200h1v1h-1zM540 200h1v1h-1zM117 201h1v1h-1zM202 201h1v1h-1zM540 201h1v1h-1zM117 202h1v1h-1zM202 202h1v1h-1zM541 202h1v1h-1zM118 203h1v1h-1zM201 203h1v1h-1zM541 203h1v1h-1zM118 204h1v1h-1zM200 204h1v1h-1zM542 204h1v1h-1zM119 205h1v1h-1zM200 205h1v1h-1zM543 205h1v1h-1zM119 206h1v1h-1zM200 206h1v1h-1zM543 206h2v1h-2zM120 207h1v1h-1zM199 207h1v1h-1zM544 207h1v1h-1zM120 208h1v1h-1zM198 208h1v1h-1zM545 208h1v1h-1zM121 209h1v1h-1zM198 209h1v1h-1zM545 209h1v1h-1zM121 210h1v1h-1zM197 210h1v1h-1zM546 210h1v1h-1zM122 211h1v1h-1zM196 211h1v1h-1zM546 211h1v1h-1zM122 212h1v1h-1zM196 212h1v1h-1zM547 212h1v1h-1zM123 213h1v1h-1zM195 213h1v1h-1zM548 213h1v1h-1zM123 214h1v1h-1zM195 214h1v1h-1zM549 214h2v1h-2zM124 215h1v1h-1zM194 215h1v1h-1zM551 215h1v1h-1zM125 216h1v1h-1zM193 216h1v1h-1zM552 216h2v1h-2zM125 217h1v1h-1zM193 217h1v1h-1zM553 217h1v1h-1zM126 218h1v1h-1zM192 218h1v1h-1zM554 218h2v1h-2zM127 219h1v1h-1zM192 219h1v1h-1zM556 219h1v1h-1zM127 220h1v1h-1zM191 220h1v1h-1zM557 220h2v1h-2zM128 221h1v1h-1zM191 221h1v1h-1zM559 221h1v1h-1zM129 222h1v1h-1zM190 222h1v1h-1zM560 222h1v1h-1zM129 223h1v1h-1zM190 223h1v1h-1zM560 223h1v1h-1zM130 224h1v1h-1zM189 224h1v1h-1zM561 224h1v1h-1zM131 225h1v1h-1zM189 225h1v1h-1zM562 225h1v1h-1zM131 226h1v1h-1zM188 226h1v1h-1zM563 226h1v1h-1zM132 227h1v1h-1zM188 227h1v1h-1zM564 227h1v1h-1zM133 228h2v1h-2zM187 228h1v1h-1zM565 228h1v1h-1zM135 229h1v1h-1zM187 229h1v1h-1zM566 229h1v1h-1zM136 230h2v1h-2zM186 230h1v1h-1zM567 230h1v1h-1zM138 231h2v1h-2zM186 231h1v1h-1zM568 231h1v1h-1zM140 232h1v1h-1zM185 232h1v1h-1zM569 232h1v1h-1zM141 233h2v1h-2zM184 233h1v1h-1zM570 233h1v1h-1zM143 234h1v1h-1zM183 234h1v1h-1zM571 234h1v1h-1zM144 235h1v1h-1zM182 235h1v1h-1zM572 235h1v1h-1zM145 236h1v1h-1zM182 236h1v1h-1zM573 236h1v1h-1zM146 237h1v1h-1zM181 237h1v1h-1zM574 237h1v1h-1zM147 238h1v1h-1zM180 238h1v1h-1zM575 238h1v1h-1zM148 239h1v1h-1zM179 239h1v1h-1zM576 239h1v1h-1zM149 240h1v1h-1zM179 240h1v1h-1zM577 240h1v1h-1zM150 241h2v1h-2zM178 241h1v1h-1zM578 241h1v1h-1zM152 242h1v1h-1zM177 242h1v1h-1zM579 242h1v1h-1zM153 243h1v1h-1zM175 243h2v1h-2zM579 243h1v1h-1zM154 244h1v1h-1zM173 244h2v1h-2zM580 244h1v1h-1zM154 245h2v1h-2zM171 245h3v1h-3zM581 245h1v1h-1zM156 246h2v1h-2zM169 246h2v1h-2zM582 246h1v1h-1zM158 247h1v1h-1zM166 247h3v1h-3zM582 247h1v1h-1zM159 248h7v1h-7zM583 248h1v1h-1zM584 249h1v1h-1zM585 250h2v1h-2zM587 251h1v1h-1zM588 252h1v1h-1zM589 253h1v1h-1zM590 254h2v1h-2zM592 255h1v1h-1zM593 256h2v1h-2zM595 257h1v1h-1zM596 258h3v1h-3zM599 259h3v1h-3zM602 260h3v1h-3zM605 261h3v1h-3zM617 261h19v1h-19zM608 262h9v1h-9zM636 262h2v1h-2zM638 263h1v1h-1zM639 264h2v1h-2zM641 265h2v1h-2zM643 266h3v1h-3zM646 267h2v1h-2zM648 268h3v1h-3zM651 269h2v1h-2zM653 270h2v1h-2zM655 271h2v1h-2zM657 272h2v1h-2zM659 273h1v1h-1zM660 274h2v1h-2zM662 275h1v1h-1zM663 276h2v1h-2zM665 277h1v1h-1zM666 278h3v1h-3zM669 279h4v1h-4zM673 280h8v1h-8zM681 281h7v1h-7zM688 282h10v1h-10zM698 283h4v1h-4zM702 284h3v1h-3zM705 285h2v1h-2zM749 285h17v1h-17zM707 286h4v1h-4zM747 286h2v1h-2zM766 286h3v1h-3zM711 287h4v1h-4zM746 287h1v1h-1zM769 287h2v1h-2zM715 288h4v1h-4zM744 288h2v1h-2zM771 288h2v1h-2zM719 289h19v1h-19zM739 289h5v1h-5zM773 289h2v1h-2zM738 290h1v1h-1zM775 290h2v1h-2zM777 291h3v1h-3zM780 292h2v1h-2zM782 293h3v1h-3zM785 294h2v1h-2zM787 295h1v1h-1zM788 296h2v1h-2zM789 297h1v1h-1zM790 298h2v1h-2zM792 299h1v1h-1zM793 300h2v1h-2zM795 301h2v1h-2zM797 302h1v1h-1zM797 303h2v1h-2zM799 304h1v1h-1zM800 305h2v1h-2zM802 306h2v1h-2zM804 307h1v1h-1zM811 307h12v1h-12zM805 308h6v1h-6zM823 308h2v1h-2zM825 309h2v1h-2zM827 310h1v1h-1zM828 311h2v1h-2zM830 312h2v1h-2zM832 313h3v1h-3zM835 314h2v1h-2zM837 315h5v1h-5zM842 316h18v1h-18zM860 317h3v1h-3zM863 318h2v1h-2zM865 319h3v1h-3zM867 320h2v1h-2zM869 321h3v1h-3zM872 322h2v1h-2zM874 323h8v1h-8zM882 324h3v1h-3zM885 325h2v1h-2zM887 326h1v1h-1zM888 327h2v1h-2zM890 328h1v1h-1zM891 329h1v1h-1zM892 330h1v1h-1zM893 331h1v1h-1zM893 332h1v1h-1zM894 333h1v1h-1zM895 334h1v1h-1zM896 335h1v1h-1zM897 336h2v1h-2zM898 337h1v1h-1zM899 338h1v1h-1zM900 339h1v1h-1zM901 340h2v1h-2zM903 341h1v1h-1zM904 342h2v1h-2zM906 343h1v1h-1zM907 344h1v1h-1zM908 345h2v1h-2zM910 346h2v1h-2zM912 347h1v1h-1zM913 348h2v1h-2zM915 349h2v1h-2zM917 350h2v1h-2zM919 351h2v1h-2zM921 352h1v1h-1zM922 353h1v1h-1zM923 354h1v1h-1zM924 355h1v1h-1z" fill="#0000dd"/>
<rect x="4" y="157" width="1162" height="2" fill="#ff0000"/>
<rect x="3" y="155" width="6" height="6" fill="#ff0000"/>
<rect x="5" y="157" width="2" height="2" fill="#fff"/>
<rect x="1160" y="155" width="6" height="6" fill="#ff0000"/>
<rect x="1162" y="157" width="2" height="2" fill="#fff"/>
<rect x="4" y="229" width="1162" height="2" fill="#ff0000"/>
<rect x="3" y="227" width="6" height="6" fill="#ff0000"/>
<rect x="5" y="229" width="2" height="2" fill="#fff"/>
<rect x="1160" y="227" width="6" height="6" fill="#ff0000"/>
<rect x="1162" y="229" width="2" height="2" fill="#fff"/>
<rect x="4" y="300" width="1162" height="2" fill="#00ff00"/>
<rect x="3" y="298" width="6" height="6" fill="#00ff00"/>
<rect x="5" y="300" width="2" height="2" fill="#fff"/>
<rect x="1160" y="298" width="6" height="6" fill="#00ff00"/>
<rect x="1162" y="300" width="2" height="2" fill="#fff"/>
<rect x="4" y="370" width="1162" height="2" fill="#0000ff"/>
<rect x="3" y="368" width="6" height="6" fill="#0000ff"/>
<rect x="5" y="370" width="2" height="2" fill="#fff"/>
<rect x="1160" y="368" width="6" height="6" fill="#0000ff"/>
<rect x="1162" y="370" width="2" height="2" fill="#fff"/>
<g clip-path="url(#cm)">
<rect x="4" y="96" width="1" height="15" fill="#2ccd2e"/>
<rect x="3" y="98" width="3" height="3" fill="#2ccd2e"/>
<rect x="8" y="98" width="1" height="24" fill="#ff0000"/>
<rect x="7" y="99" width="3" height="2" fill="#ff0000"/>
<rect x="12" y="102" width="1" height="10" fill="#2ccd2e"/>
<rect x="11" y="104" width="3" height="6" fill="#2ccd2e"/>
<rect x="16" y="104" width="1" height="32" fill="#2ccd2e"/>
<rect x="15" y="108" width="3" height="22" fill="#2ccd2e"/>
<rect x="20" y="111" width="1" height="21" fill="#ff0000"/>
<rect x="19" y="116" width="3" height="14" fill="#ff0000"/>
<rect x="24" y="109" width="1" height="32" fill="#2ccd2e"/>
<rect x="23" y="116" width="3" height="16" fill="#2ccd2e"/>
<rect x="28" y="130" width="1" height="21" fill="#2ccd2e"/>
<rect x="27" y="130" width="3" height="18" fill="#2ccd2e"/>
<rect x="32" y="131" width="1" height="20" fill="#ff0000"/>
<rect x="31" y="132" width="3" height="16" fill="#ff0000"/>
<rect x="36" y="116" width="1" height="24" fill="#2ccd2e"/>
<rect x="35" y="133" width="3" height="3" fill="#2ccd2e"/>
<rect x="40" y="104" width="1" height="34" fill="#ff0000"/>
<rect x="39" y="115" width="3" height="22" fill="#ff0000"/>
<rect x="44" y="104" width="1" height="21" fill="#ff0000"/>
<rect x="43" y="114" width="3" height="2" fill="#ff0000"/>
<rect x="48" y="111" width="1" height="37" fill="#2ccd2e"/>
<rect x="47" y="114" width="3" height="31" fill="#2ccd2e"/>
<rect x="52" y="141" width="1" height="82" fill="#2ccd2e"/>
<rect x="51" y="143" width="3" height="75" fill="#2ccd2e"/>
<rect x="56" y="201" width="1" height="41" fill="#ff0000"/>
<rect x="55" y="214" width="3" height="10" fill="#ff0000"/>
<rect x="60" y="196" width="1" height="27" fill="#ff0000"/>
<rect x="59" y="202" width="3" height="12" fill="#ff0000"/>
<rect x="64" y="150" width="1" height="58" fill="#ff0000"/>
<rect x="63" y="160" width="3" height="43" fill="#ff0000"/>
<rect x="68" y="154" width="1" height="26" fill="#2ccd2e"/>
<rect x="67" y="160" width="3" height="11" fill="#2ccd2e"/>
<rect x="72" y="165" width="1" height="33" fill="#2ccd2e"/>
<rect x="71" y="170" width="3" height="17" fill="#2ccd2e"/>
<rect x="76" y="168" width="1" height="20" fill="#ff0000"/>
<rect x="75" y="182" width="3" height="4" fill="#ff0000"/>
<rect x="80" y="180" width="1" height="40" fill="#2ccd2e"/>
<rect x="79" y="182" width="3" height="28" fill="#2ccd2e"/>
<rect x="84" y="182" width="1" height="31" fill="#ff0000"/>
<rect x="83" y="182" width="3" height="28" fill="#ff0000"/>
<rect x="88" y="180" width="1" height="18" fill="#2ccd2e"/>
<rect x="87" y="182" width="3" height="14" fill="#2ccd2e"/>
<rect x="92" y="181" width="1" height="24" fill="#ff0000"/>
<rect x="91" y="189" width="3" height="7" fill="#ff0000"/>
<rect x="96" y="182" width="1" height="52" fill="#2ccd2e"/>
<rect x="95" y="191" width="3" height="35" fill="#2ccd2e"/>
<rect x="100" y="223" width="1" height="37" fill="#2ccd2e"/>
<rect x="99" y="226" width="3" height="6" fill="#2ccd2e"/>
<rect x="104" y="231" width="1" height="54" fill="#2ccd2e"/>
<rect x="103" y="231" width="3" height="39" fill="#2ccd2e"/>
<rect x="108" y="259" width="1" height="40" fill="#2ccd2e"/>
<rect x="107" y="269" width="3" height="13" fill="#2ccd2e"/>
<rect x="112" y="277" width="1" height="36" fill="#2ccd2e"/>
<rect x="111" y="281" width="3" height="30" fill="#2ccd2e"/>
<rect x="116" y="287" width="1" height="36" fill="#2ccd2e"/>
<rect x="115" y="294" width="3" height="5" fill="#2ccd2e"/>
<rect x="120" y="270" width="1" height="41" fill="#ff0000"/>
<rect x="119" y="277" width="3" height="22" fill="#ff0000"/>
<rect x="124" y="261" width="1" height="24" fill="#ff0000"/>
<rect x="123" y="274" width="3" height="4" fill="#ff0000"/>
<rect x="128" y="247" width="1" height="34" fill="#ff0000"/>
<rect x="127" y="249" width="3" height="25" fill="#ff0000"/>
<rect x="132" y="228" width="1" height="44" fill="#2ccd2e"/>
<rect x="131" y="249" width="3" height="15" fill="#2ccd2e"/>
<rect x="136" y="248" width="1" height="25" fill="#2ccd2e"/>
<rect x="135" y="260" width="3" height="7" fill="#2ccd2e"/>
<rect x="140" y="244" width="1" height="26" fill="#ff0000"/>
<rect x="139" y="247" width="3" height="20" fill="#ff0000"/>
<rect x="144" y="246" width="1" height="29" fill="#2ccd2e"/>
<rect x="143" y="246" width="3" height="19" fill="#2ccd2e"/>
<rect x="148" y="256" width="1" height="27" fill="#2ccd2e"/>
<rect x="147" y="266" width="3" height="6" fill="#2ccd2e"/>
<rect x="152" y="248" width="1" height="32" fill="#ff0000"/>
<rect x="151" y="256" width="3" height="16" fill="#ff0000"/>
<rect x="156" y="216" width="1" height="40" fill="#ff0000"/>
<rect x="155" y="234" width="3" height="21" fill="#ff0000"/>
<rect x="160" y="231" width="1" height="17" fill="#2ccd2e"/>
<rect x="159" y="234" width="3" height="4" fill="#2ccd2e"/>
<rect x="164" y="181" width="1" height="82" fill="#ff0000"/>
<rect x="163" y="186" width="3" height="51" fill="#ff0000"/>
<rect x="168" y="144" width="1" height="70" fill="#ff0000"/>
<rect x="167" y="165" width="3" height="22" fill="#ff0000"/>
<rect x="172" y="147" width="1" height="36" fill="#ff0000"/>
<rect x="171" y="156" width="3" height="10" fill="#ff0000"/>
<rect x="176" y="121" width="1" height="45" fill="#ff0000"/>
<rect x="175" y="141" width="3" height="21" fill="#ff0000"/>
<rect x="180" y="111" width="1" height="38" fill="#ff0000"/>
<rect x="179" y="127" width="3" height="15" fill="#ff0000"/>
<rect x="184" y="104" width="1" height="30" fill="#ff0000"/>
<rect x="183" y="123" width="3" height="5" fill="#ff0000"/>
<rect x="188" y="111" width="1" height="33" fill="#2ccd2e"/>
<rect x="187" y="123" width="3" height="13" fill="#2ccd2e"/>
<rect x="192" y="133" width="1" height="32" fill="#2ccd2e"/>
<rect x="191" y="135" width="3" height="16" fill="#2ccd2e"/>
<rect x="196" y="138" width="1" height="19" fill="#ff0000"/>
<rect x="195" y="151" width="3" height="4" fill="#ff0000"/>
<rect x="200" y="133" width="1" height="23" fill="#ff0000"/>
<rect x="199" y="144" width="3" height="8" fill="#ff0000"/>
<rect x="204" y="139" width="1" height="17" fill="#ff0000"/>
<rect x="203" y="140" width="3" height="5" fill="#ff0000"/>
<rect x="208" y="129" width="1" height="21" fill="#ff0000"/>
<rect x="207" y="131" width="3" height="10" fill="#ff0000"/>
<rect x="212" y="104" width="1" height="36" fill="#2ccd2e"/>
<rect x="211" y="131" width="3" height="3" fill="#2ccd2e"/>
<rect x="216" y="128" width="1" height="27" fill="#2ccd2e"/>
<rect x="215" y="135" width="3" height="13" fill="#2ccd2e"/>
<rect x="220" y="112" width="1" height="44" fill="#ff0000"/>
<rect x="219" y="124" width="3" height="23" fill="#ff0000"/>
<rect x="224" y="115" width="1" height="31" fill="#2ccd2e"/>
<rect x="223" y="124" width="3" height="6" fill="#2ccd2e"/>
<rect x="228" y="89" width="1" height="44" fill="#ff0000"/>
<rect x="227" y="104" width="3" height="26" fill="#ff0000"/>
<rect x="232" y="89" width="1" height="30" fill="#2ccd2e"/>
<rect x="231" y="104" width="3" height="14" fill="#2ccd2e"/>
<rect x="236" y="117" width="1" height="16" fill="#2ccd2e"/>
<rect x="235" y="123" width="3" height="5" fill="#2ccd2e"/>
<rect x="240" y="117" width="1" height="26" fill="#ff0000"/>
<rect x="239" y="120" width="3" height="8" fill="#ff0000"/>
<rect x="244" y="114" width="1" height="54" fill="#2ccd2e"/>
<rect x="243" y="119" width="3" height="29" fill="#2ccd2e"/>
<rect x="248" y="134" width="1" height="23" fill="#ff0000"/>
<rect x="247" y="146" width="3" height="3" fill="#ff0000"/>
<rect x="252" y="116" width="1" height="34" fill="#ff0000"/>
<rect x="251" y="130" width="3" height="17" fill="#ff0000"/>
<rect x="256" y="93" width="1" height="36" fill="#ff0000"/>
<rect x="255" y="98" width="3" height="29" fill="#ff0000"/>
<rect x="260" y="97" width="1" height="23" fill="#2ccd2e"/>
<rect x="259" y="98" width="3" height="16" fill="#2ccd2e"/>
<rect x="264" y="110" width="1" height="44" fill="#2ccd2e"/>
<rect x="263" y="113" width="3" height="32" fill="#2ccd2e"/>
<rect x="268" y="124" width="1" height="24" fill="#ff0000"/>
<rect x="267" y="130" width="3" height="15" fill="#ff0000"/>
<rect x="272" y="110" width="1" height="28" fill="#ff0000"/>
<rect x="271" y="128" width="3" height="2" fill="#ff0000"/>
<rect x="276" y="98" width="1" height="30" fill="#ff0000"/>
<rect x="275" y="119" width="3" height="8" fill="#ff0000"/>
<rect x="280" y="44" width="1" height="76" fill="#ff0000"/>
<rect x="279" y="55" width="3" height="64" fill="#ff0000"/>
<rect x="284" y="54" width="1" height="63" fill="#2ccd2e"/>
<rect x="283" y="55" width="3" height="54" fill="#2ccd2e"/>
<rect x="288" y="100" width="1" height="59" fill="#2ccd2e"/>
<rect x="287" y="108" width="3" height="46" fill="#2ccd2e"/>
<rect x="292" y="132" width="1" height="36" fill="#ff0000"/>
<rect x="291" y="144" width="3" height="10" fill="#ff0000"/>
<rect x="296" y="133" width="1" height="21" fill="#2ccd2e"/>
<rect x="295" y="143" width="3" height="5" fill="#2ccd2e"/>
<rect x="300" y="138" width="1" height="15" fill="#ff0000"/>
<rect x="299" y="144" width="3" height="4" fill="#ff0000"/>
<rect x="304" y="141" width="1" height="23" fill="#2ccd2e"/>
<rect x="303" y="144" width="3" height="4" fill="#2ccd2e"/>
<rect x="308" y="144" width="1" height="18" fill="#2ccd2e"/>
<rect x="307" y="148" width="3" height="5" fill="#2ccd2e"/>
<rect x="312" y="114" width="1" height="39" fill="#ff0000"/>
<rect x="311" y="123" width="3" height="30" fill="#ff0000"/>
<rect x="316" y="108" width="1" height="23" fill="#ff0000"/>
<rect x="315" y="113" width="3" height="5" fill="#ff0000"/>
<rect x="320" y="107" width="1" height="16" fill="#ff0000"/>
<rect x="319" y="110" width="3" height="6" fill="#ff0000"/>
<rect x="324" y="101" width="1" height="32" fill="#2ccd2e"/>
<rect x="323" y="110" width="3" height="16" fill="#2ccd2e"/>
<rect x="328" y="118" width="1" height="13" fill="#ff0000"/>
<rect x="327" y="124" width="3" height="3" fill="#ff0000"/>
<rect x="332" y="112" width="1" height="17" fill="#2ccd2e"/>
<rect x="331" y="123" width="3" height="5" fill="#2ccd2e"/>
<rect x="336" y="118" width="1" height="16" fill="#2ccd2e"/>
<rect x="335" y="120" width="3" height="8" fill="#2ccd2e"/>
<rect x="340" y="95" width="1" height="34" fill="#ff0000"/>
<rect x="339" y="101" width="3" height="27" fill="#ff0000"/>
<rect x="344" y="100" width="1" height="22" fill="#2ccd2e"/>
<rect x="343" y="102" width="3" height="11" fill="#2ccd2e"/>
<rect x="348" y="83" width="1" height="31" fill="#ff0000"/>
<rect x="347" y="91" width="3" height="23" fill="#ff0000"/>
<rect x="352" y="73" width="1" height="23" fill="#2ccd2e"/>
<rect x="351" y="91" width="3" height="1" fill="#2ccd2e"/>
<rect x="356" y="88" width="1" height="42" fill="#2ccd2e"/>
<rect x="355" y="89" width="3" height="34" fill="#2ccd2e"/>
<rect x="360" y="112" width="1" height="33" fill="#2ccd2e"/>
<rect x="359" y="123" width="3" height="14" fill="#2ccd2e"/>
<rect x="364" y="123" width="1" height="19" fill="#ff0000"/>
<rect x="363" y="136" width="3" height="2" fill="#ff0000"/>
<rect x="368" y="113" width="1" height="24" fill="#ff0000"/>
<rect x="367" y="118" width="3" height="19" fill="#ff0000"/>
<rect x="372" y="111" width="1" height="44" fill="#2ccd2e"/>
<rect x="371" y="118" width="3" height="32" fill="#2ccd2e"/>
<rect x="376" y="139" width="1" height="12" fill="#ff0000"/>
<rect x="375" y="144" width="3" height="4" fill="#ff0000"/>
<rect x="380" y="133" width="1" height="41" fill="#2ccd2e"/>
<rect x="379" y="143" width="3" height="20" fill="#2ccd2e"/>
<rect x="384" y="146" width="1" height="28" fill="#2ccd2e"/>
<rect x="383" y="162" width="3" height="4" fill="#2ccd2e"/>
<rect x="388" y="154" width="1" height="20" fill="#2ccd2e"/>
<rect x="387" y="165" width="3" height="6" fill="#2ccd2e"/>
<rect x="392" y="158" width="1" height="52" fill="#2ccd2e"/>
<rect x="391" y="170" width="3" height="19" fill="#2ccd2e"/>
<rect x="396" y="161" width="1" height="27" fill="#ff0000"/>
<rect x="395" y="169" width="3" height="18" fill="#ff0000"/>
<rect x="400" y="145" width="1" height="27" fill="#ff0000"/>
<rect x="399" y="150" width="3" height="20" fill="#ff0000"/>
<rect x="404" y="147" width="1" height="18" fill="#2ccd2e"/>
<rect x="403" y="150" width="3" height="6" fill="#2ccd2e"/>
<rect x="408" y="149" width="1" height="25" fill="#2ccd2e"/>
<rect x="407" y="155" width="3" height="12" fill="#2ccd2e"/>
<rect x="412" y="161" width="1" height="46" fill="#2ccd2e"/>
<rect x="411" y="166" width="3" height="16" fill="#2ccd2e"/>
<rect x="416" y="162" width="1" height="22" fill="#ff0000"/>
<rect x="415" y="180" width="3" height="4" fill="#ff0000"/>
<rect x="420" y="173" width="1" height="28" fill="#2ccd2e"/>
<rect x="419" y="179" width="3" height="10" fill="#2ccd2e"/>
<rect x="424" y="179" width="1" height="29" fill="#2ccd2e"/>
<rect x="423" y="188" width="3" height="15" fill="#2ccd2e"/>
<rect x="428" y="160" width="1" height="43" fill="#ff0000"/>
<rect x="427" y="163" width="3" height="40" fill="#ff0000"/>
<rect x="432" y="133" width="1" height="45" fill="#ff0000"/>
<rect x="431" y="136" width="3" height="28" fill="#ff0000"/>
<rect x="436" y="108" width="1" height="29" fill="#ff0000"/>
<rect x="435" y="119" width="3" height="13" fill="#ff0000"/>
<rect x="440" y="109" width="1" height="25" fill="#ff0000"/>
<rect x="439" y="114" width="3" height="5" fill="#ff0000"/>
<rect x="444" y="110" width="1" height="54" fill="#2ccd2e"/>
<rect x="443" y="114" width="3" height="22" fill="#2ccd2e"/>
<rect x="448" y="129" width="1" height="35" fill="#2ccd2e"/>
<rect x="447" y="135" width="3" height="14" fill="#2ccd2e"/>
<rect x="452" y="132" width="1" height="27" fill="#ff0000"/>
<rect x="451" y="146" width="3" height="3" fill="#ff0000"/>
<rect x="456" y="138" width="1" height="26" fill="#2ccd2e"/>
<rect x="455" y="151" width="3" height="3" fill="#2ccd2e"/>
<rect x="460" y="134" width="1" height="30" fill="#ff0000"/>
<rect x="459" y="135" width="3" height="19" fill="#ff0000"/>
<rect x="464" y="121" width="1" height="23" fill="#ff0000"/>
<rect x="463" y="123" width="3" height="13" fill="#ff0000"/>
<rect x="468" y="121" width="1" height="55" fill="#2ccd2e"/>
<rect x="467" y="123" width="3" height="48" fill="#2ccd2e"/>
<rect x="472" y="149" width="1" height="54" fill="#2ccd2e"/>
<rect x="471" y="170" width="3" height="28" fill="#2ccd2e"/>
<rect x="476" y="154" width="1" height="31" fill="#ff0000"/>
<rect x="475" y="168" width="3" height="13" fill="#ff0000"/>
<rect x="480" y="153" width="1" height="29" fill="#2ccd2e"/>
<rect x="479" y="169" width="3" height="3" fill="#2ccd2e"/>
<rect x="484" y="136" width="1" height="38" fill="#ff0000"/>
<rect x="483" y="160" width="3" height="12" fill="#ff0000"/>
<rect x="488" y="157" width="1" height="16" fill="#2ccd2e"/>
<rect x="487" y="160" width="3" height="9" fill="#2ccd2e"/>
<rect x="492" y="160" width="1" height="22" fill="#2ccd2e"/>
<rect x="491" y="168" width="3" height="11" fill="#2ccd2e"/>
<rect x="496" y="153" width="1" height="38" fill="#ff0000"/>
<rect x="495" y="154" width="3" height="22" fill="#ff0000"/>
<rect x="500" y="146" width="1" height="25" fill="#2ccd2e"/>
<rect x="499" y="154" width="3" height="7" fill="#2ccd2e"/>
<rect x="504" y="160" width="1" height="49" fill="#2ccd2e"/>
<rect x="503" y="160" width="3" height="44" fill="#2ccd2e"/>
<rect x="508" y="184" width="1" height="24" fill="#ff0000"/>
<rect x="507" y="191" width="3" height="11" fill="#ff0000"/>
<rect x="512" y="187" width="1" height="26" fill="#2ccd2e"/>
<rect x="511" y="191" width="3" height="3" fill="#2ccd2e"/>
<rect x="516" y="186" width="1" height="22" fill="#2ccd2e"/>
<rect x="515" y="197" width="3" height="6" fill="#2ccd2e"/>
<rect x="520" y="202" width="1" height="96" fill="#2ccd2e"/>
<rect x="519" y="202" width="3" height="85" fill="#2ccd2e"/>
<rect x="524" y="255" width="1" height="35" fill="#ff0000"/>
<rect x="523" y="259" width="3" height="27" fill="#ff0000"/>
<rect x="528" y="247" width="1" height="28" fill="#ff0000"/>
<rect x="527" y="257" width="3" height="2" fill="#ff0000"/>
<rect x="532" y="250" width="1" height="34" fill="#2ccd2e"/>
<rect x="531" y="257" width="3" height="16" fill="#2ccd2e"/>
<rect x="536" y="265" width="1" height="23" fill="#2ccd2e"/>
<rect x="535" y="274" width="3" height="5" fill="#2ccd2e"/>
<rect x="540" y="270" width="1" height="17" fill="#2ccd2e"/>
<rect x="539" y="278" width="3" height="4" fill="#2ccd2e"/>
<rect x="544" y="253" width="1" height="32" fill="#ff0000"/>
<rect x="543" y="257" width="3" height="24" fill="#ff0000"/>
<rect x="548" y="240" width="1" height="30" fill="#2ccd2e"/>
<rect x="547" y="256" width="3" height="10" fill="#2ccd2e"/>
<rect x="552" y="230" width="1" height="46" fill="#ff0000"/>
<rect x="551" y="235" width="3" height="30" fill="#ff0000"/>
<rect x="556" y="233" width="1" height="27" fill="#2ccd2e"/>
<rect x="555" y="236" width="3" height="20" fill="#2ccd2e"/>
<rect x="560" y="240" width="1" height="21" fill="#ff0000"/>
<rect x="559" y="245" width="3" height="11" fill="#ff0000"/>
<rect x="564" y="237" width="1" height="25" fill="#2ccd2e"/>
<rect x="563" y="244" width="3" height="16" fill="#2ccd2e"/>
<rect x="568" y="244" width="1" height="19" fill="#ff0000"/>
<rect x="567" y="254" width="3" height="7" fill="#ff0000"/>
<rect x="572" y="236" width="1" height="21" fill="#ff0000"/>
<rect x="571" y="250" width="3" height="5" fill="#ff0000"/>
<rect x="576" y="249" width="1" height="23" fill="#2ccd2e"/>
<rect x="575" y="253" width="3" height="14" fill="#2ccd2e"/>
<rect x="580" y="251" width="1" height="20" fill="#2ccd2e"/>
<rect x="579" y="266" width="3" height="3" fill="#2ccd2e"/>
<rect x="584" y="244" width="1" height="28" fill="#ff0000"/>
<rect x="583" y="248" width="3" height="19" fill="#ff0000"/>
<rect x="588" y="235" width="1" height="38" fill="#2ccd2e"/>
<rect x="587" y="248" width="3" height="12" fill="#2ccd2e"/>
<rect x="592" y="257" width="1" height="37" fill="#2ccd2e"/>
<rect x="591" y="259" width="3" height="17" fill="#2ccd2e"/>
<rect x="596" y="271" width="1" height="19" fill="#ff0000"/>
<rect x="595" y="276" width="3" height="7" fill="#ff0000"/>
<rect x="600" y="251" width="1" height="58" fill="#ff0000"/>
<rect x="599" y="262" width="3" height="14" fill="#ff0000"/>
<rect x="604" y="258" width="1" height="34" fill="#2ccd2e"/>
<rect x="603" y="261" width="3" height="26" fill="#2ccd2e"/>
<rect x="608" y="263" width="1" height="27" fill="#ff0000"/>
<rect x="607" y="279" width="3" height="8" fill="#ff0000"/>
<rect x="612" y="255" width="1" height="26" fill="#ff0000"/>
<rect x="611" y="262" width="3" height="18" fill="#ff0000"/>
<rect x="616" y="255" width="1" height="29" fill="#2ccd2e"/>
<rect x="615" y="259" width="3" height="8" fill="#2ccd2e"/>
<rect x="620" y="255" width="1" height="19" fill="#ff0000"/>
<rect x="619" y="261" width="3" height="5" fill="#ff0000"/>
<rect x="624" y="250" width="1" height="19" fill="#ff0000"/>
<rect x="623" y="255" width="3" height="8" fill="#ff0000"/>
<rect x="628" y="254" width="1" height="18" fill="#2ccd2e"/>
<rect x="627" y="255" width="3" height="9" fill="#2ccd2e"/>
<rect x="632" y="247" width="1" height="20" fill="#ff0000"/>
<rect x="631" y="250" width="3" height="14" fill="#ff0000"/>
<rect x="636" y="255" width="1" height="23" fill="#2ccd2e"/>
<rect x="635" y="255" width="3" height="18" fill="#2ccd2e"/>
<rect x="640" y="271" width="1" height="35" fill="#2ccd2e"/>
<rect x="639" y="271" width="3" height="28" fill="#2ccd2e"/>
<rect x="644" y="287" width="1" height="19" fill="#ff0000"/>
<rect x="643" y="293" width="3" height="5" fill="#ff0000"/>
<rect x="648" y="283" width="1" height="16" fill="#ff0000"/>
<rect x="647" y="291" width="3" height="2" fill="#ff0000"/>
<rect x="652" y="279" width="1" height="22" fill="#ff0000"/>
<rect x="651" y="288" width="3" height="3" fill="#ff0000"/>
<rect x="656" y="280" width="1" height="18" fill="#ff0000"/>
<rect x="655" y="287" width="3" height="2" fill="#ff0000"/>
<rect x="660" y="284" width="1" height="26" fill="#2ccd2e"/>
<rect x="659" y="287" width="3" height="18" fill="#2ccd2e"/>
<rect x="664" y="300" width="1" height="50" fill="#2ccd2e"/>
<rect x="663" y="303" width="3" height="32" fill="#2ccd2e"/>
<rect x="668" y="273" width="1" height="71" fill="#ff0000"/>
<rect x="667" y="284" width="3" height="50" fill="#ff0000"/>
<rect x="672" y="264" width="1" height="40" fill="#2ccd2e"/>
<rect x="671" y="283" width="3" height="2" fill="#2ccd2e"/>
<rect x="676" y="284" width="1" height="20" fill="#2ccd2e"/>
<rect x="675" y="287" width="3" height="4" fill="#2ccd2e"/>
<rect x="680" y="286" width="1" height="14" fill="#2ccd2e"/>
<rect x="679" y="288" width="3" height="4" fill="#2ccd2e"/>
<rect x="684" y="277" width="1" height="20" fill="#ff0000"/>
<rect x="683" y="286" width="3" height="6" fill="#ff0000"/>
<rect x="688" y="277" width="1" height="16" fill="#ff0000"/>
<rect x="687" y="282" width="3" height="4" fill="#ff0000"/>
<rect x="692" y="257" width="1" height="31" fill="#ff0000"/>
<rect x="691" y="270" width="3" height="10" fill="#ff0000"/>
<rect x="696" y="263" width="1" height="15" fill="#2ccd2e"/>
<rect x="695" y="266" width="3" height="9" fill="#2ccd2e"/>
<rect x="700" y="271" width="1" height="17" fill="#2ccd2e"/>
<rect x="699" y="274" width="3" height="10" fill="#2ccd2e"/>
<rect x="704" y="276" width="1" height="12" fill="#2ccd2e"/>
<rect x="703" y="283" width="3" height="2" fill="#2ccd2e"/>
<rect x="708" y="280" width="1" height="11" fill="#2ccd2e"/>
<rect x="707" y="284" width="3" height="3" fill="#2ccd2e"/>
<rect x="712" y="280" width="1" height="10" fill="#2ccd2e"/>
<rect x="711" y="286" width="3" height="2" fill="#2ccd2e"/>
<rect x="716" y="284" width="1" height="12" fill="#ff0000"/>
<rect x="715" y="288" width="3" height="5" fill="#ff0000"/>
<rect x="720" y="282" width="1" height="14" fill="#2ccd2e"/>
<rect x="719" y="289" width="3" height="3" fill="#2ccd2e"/>
<rect x="724" y="288" width="1" height="13" fill="#2ccd2e"/>
<rect x="723" y="291" width="3" height="6" fill="#2ccd2e"/>
<rect x="728" y="279" width="1" height="21" fill="#ff0000"/>
<rect x="727" y="286" width="3" height="11" fill="#ff0000"/>
<rect x="732" y="280" width="1" height="66" fill="#2ccd2e"/>
<rect x="731" y="286" width="3" height="19" fill="#2ccd2e"/>
<rect x="736" y="286" width="1" height="38" fill="#ff0000"/>
<rect x="735" y="293" width="3" height="19" fill="#ff0000"/>
<rect x="740" y="274" width="1" height="22" fill="#ff0000"/>
<rect x="739" y="287" width="3" height="7" fill="#ff0000"/>
<rect x="744" y="283" width="1" height="17" fill="#2ccd2e"/>
<rect x="743" y="287" width="3" height="2" fill="#2ccd2e"/>
<rect x="748" y="251" width="1" height="41" fill="#ff0000"/>
<rect x="747" y="261" width="3" height="27" fill="#ff0000"/>
<rect x="752" y="258" width="1" height="24" fill="#2ccd2e"/>
<rect x="751" y="260" width="3" height="15" fill="#2ccd2e"/>
<rect x="756" y="269" width="1" height="15" fill="#2ccd2e"/>
<rect x="755" y="276" width="3" height="4" fill="#2ccd2e"/>
<rect x="760" y="272" width="1" height="14" fill="#2ccd2e"/>
<rect x="759" y="278" width="3" height="6" fill="#2ccd2e"/>
<rect x="764" y="283" width="1" height="29" fill="#2ccd2e"/>
<rect x="763" y="283" width="3" height="24" fill="#2ccd2e"/>
<rect x="768" y="296" width="1" height="18" fill="#2ccd2e"/>
<rect x="767" y="305" width="3" height="2" fill="#2ccd2e"/>
<rect x="772" y="299" width="1" height="40" fill="#2ccd2e"/>
<rect x="771" y="306" width="3" height="11" fill="#2ccd2e"/>
<rect x="776" y="302" width="1" height="28" fill="#2ccd2e"/>
<rect x="775" y="317" width="3" height="9" fill="#2ccd2e"/>
<rect x="780" y="306" width="1" height="36" fill="#ff0000"/>
<rect x="779" y="311" width="3" height="13" fill="#ff0000"/>
<rect x="784" y="306" width="1" height="24" fill="#2ccd2e"/>
<rect x="783" y="311" width="3" height="12" fill="#2ccd2e"/>
<rect x="788" y="322" width="1" height="18" fill="#2ccd2e"/>
<rect x="787" y="322" width="3" height="7" fill="#2ccd2e"/>
<rect x="792" y="322" width="1" height="24" fill="#2ccd2e"/>
<rect x="791" y="329" width="3" height="9" fill="#2ccd2e"/>
<rect x="796" y="339" width="1" height="28" fill="#2ccd2e"/>
<rect x="795" y="341" width="3" height="13" fill="#2ccd2e"/>
<rect x="800" y="344" width="1" height="17" fill="#2ccd2e"/>
<rect x="799" y="353" width="3" height="4" fill="#2ccd2e"/>
<rect x="804" y="343" width="1" height="25" fill="#ff0000"/>
<rect x="803" y="348" width="3" height="9" fill="#ff0000"/>
<rect x="808" y="285" width="1" height="64" fill="#ff0000"/>
<rect x="807" y="296" width="3" height="52" fill="#ff0000"/>
<rect x="812" y="289" width="1" height="26" fill="#ff0000"/>
<rect x="811" y="293" width="3" height="4" fill="#ff0000"/>
<rect x="816" y="269" width="1" height="34" fill="#ff0000"/>
<rect x="815" y="291" width="3" height="10" fill="#ff0000"/>
<rect x="820" y="287" width="1" height="17" fill="#2ccd2e"/>
<rect x="819" y="292" width="3" height="4" fill="#2ccd2e"/>
<rect x="824" y="286" width="1" height="33" fill="#2ccd2e"/>
<rect x="823" y="295" width="3" height="19" fill="#2ccd2e"/>
<rect x="828" y="293" width="1" height="34" fill="#2ccd2e"/>
<rect x="827" y="314" width="3" height="10" fill="#2ccd2e"/>
<rect x="832" y="296" width="1" height="33" fill="#ff0000"/>
<rect x="831" y="305" width="3" height="18" fill="#ff0000"/>
<rect x="836" y="296" width="1" height="20" fill="#ff0000"/>
<rect x="835" y="308" width="3" height="2" fill="#ff0000"/>
<rect x="840" y="285" width="1" height="29" fill="#ff0000"/>
<rect x="839" y="299" width="3" height="10" fill="#ff0000"/>
<rect x="844" y="293" width="1" height="19" fill="#2ccd2e"/>
<rect x="843" y="299" width="3" height="7" fill="#2ccd2e"/>
<rect x="848" y="297" width="1" height="27" fill="#ff0000"/>
<rect x="847" y="303" width="3" height="3" fill="#ff0000"/>
<rect x="852" y="295" width="1" height="26" fill="#ff0000"/>
<rect x="851" y="298" width="3" height="6" fill="#ff0000"/>
<rect x="856" y="298" width="1" height="22" fill="#2ccd2e"/>
<rect x="855" y="300" width="3" height="15" fill="#2ccd2e"/>
<rect x="860" y="312" width="1" height="43" fill="#2ccd2e"/>
<rect x="859" y="315" width="3" height="30" fill="#2ccd2e"/>
<rect x="864" y="338" width="1" height="21" fill="#2ccd2e"/>
<rect x="863" y="344" width="3" height="10" fill="#2ccd2e"/>
<rect x="868" y="344" width="1" height="18" fill="#ff0000"/>
<rect x="867" y="352" width="3" height="3" fill="#ff0000"/>
<rect x="872" y="348" width="1" height="30" fill="#2ccd2e"/>
<rect x="871" y="352" width="3" height="14" fill="#2ccd2e"/>
<rect x="876" y="357" width="1" height="19" fill="#ff0000"/>
<rect x="875" y="361" width="3" height="4" fill="#ff0000"/>
<rect x="880" y="335" width="1" height="41" fill="#2ccd2e"/>
<rect x="879" y="361" width="3" height="7" fill="#2ccd2e"/>
<rect x="884" y="360" width="1" height="34" fill="#2ccd2e"/>
<rect x="883" y="368" width="3" height="17" fill="#2ccd2e"/>
<rect x="888" y="350" width="1" height="47" fill="#ff0000"/>
<rect x="887" y="370" width="3" height="15" fill="#ff0000"/>
<rect x="892" y="368" width="1" height="24" fill="#2ccd2e"/>
<rect x="891" y="369" width="3" height="20" fill="#2ccd2e"/>
<rect x="896" y="368" width="1" height="27" fill="#2ccd2e"/>
<rect x="895" y="372" width="3" height="14" fill="#2ccd2e"/>
<rect x="900" y="372" width="1" height="23" fill="#ff0000"/>
<rect x="899" y="377" width="3" height="9" fill="#ff0000"/>
<rect x="904" y="356" width="1" height="32" fill="#ff0000"/>
<rect x="903" y="369" width="3" height="8" fill="#ff0000"/>
<rect x="908" y="362" width="1" height="13" fill="#2ccd2e"/>
<rect x="907" y="369" width="3" height="1" fill="#2ccd2e"/>
<rect x="912" y="357" width="1" height="20" fill="#ff0000"/>
<rect x="911" y="363" width="3" height="7" fill="#ff0000"/>
<rect x="916" y="356" width="1" height="18" fill="#2ccd2e"/>
<rect x="915" y="363" width="3" height="5" fill="#2ccd2e"/>
<rect x="920" y="358" width="1" height="29" fill="#2ccd2e"/>
<rect x="919" y="367" width="3" height="1" fill="#2ccd2e"/>
<rect x="924" y="357" width="1" height="20" fill="#2ccd2e"/>
<rect x="923" y="367" width="3" height="2" fill="#2ccd2e"/>
</g>
<clipPath id="c2"><rect x="4" y="408" width="1162" height="68"/></clipPath>
<g clip-path="url(#c2)">
<rect x="3" y="432" width="3" height="2" fill="#c0c0c0"/>
<rect x="7" y="432" width="3" height="6" fill="#c0c0c0"/>
<rect x="11" y="432" width="3" height="9" fill="#c0c0c0"/>
<rect x="15" y="432" width="3" height="13" fill="#c0c0c0"/>
<rect x="19" y="432" width="3" height="15" fill="#c0c0c0"/>
<rect x="23" y="432" width="3" height="17" fill="#c0c0c0"/>
<rect x="27" y="432" width="3" height="20" fill="#c0c0c0"/>
<rect x="31" y="432" width="3" height="21" fill="#c0c0c0"/>
<rect x="35" y="432" width="3" height="22" fill="#c0c0c0"/>
<rect x="39" y="432" width="3" height="21" fill="#c0c0c0"/>
<rect x="43" y="432" width="3" height="20" fill="#c0c0c0"/>
<rect x="47" y="432" width="3" height="21" fill="#c0c0c0"/>
<rect x="51" y="432" width="3" height="27" fill="#c0c0c0"/>
<rect x="55" y="432" width="3" height="31" fill="#c0c0c0"/>
<rect x="59" y="432" width="3" height="33" fill="#c0c0c0"/>
<rect x="63" y="432" width="3" height="31" fill="#c0c0c0"/>
<rect x="67" y="432" width="3" height="30" fill="#c0c0c0"/>
<rect x="71" y="432" width="3" height="30" fill="#c0c0c0"/>
<rect x="75" y="432" width="3" height="29" fill="#c0c0c0"/>
<rect x="79" y="432" width="3" height="29" fill="#c0c0c0"/>
<rect x="83" y="432" width="3" height="29" fill="#c0c0c0"/>
<rect x="87" y="432" width="3" height="28" fill="#c0c0c0"/>
<rect x="91" y="432" width="3" height="28" fill="#c0c0c0"/>
<rect x="95" y="432" width="3" height="28" fill="#c0c0c0"/>
<rect x="99" y="432" width="3" height="30" fill="#c0c0c0"/>
<rect x="103" y="432" width="3" height="33" fill="#c0c0c0"/>
<rect x="107" y="432" width="3" height="36" fill="#c0c0c0"/>
<rect x="111" y="432" width="3" height="41" fill="#c0c0c0"/>
<rect x="115" y="432" width="3" height="42" fill="#c0c0c0"/>
<rect x="119" y="432" width="3" height="42" fill="#c0c0c0"/>
<rect x="123" y="432" width="3" height="41" fill="#c0c0c0"/>
<rect x="127" y="432" width="3" height="38" fill="#c0c0c0"/>
<rect x="131" y="432" width="3" height="36" fill="#c0c0c0"/>
<rect x="135" y="432" width="3" height="34" fill="#c0c0c0"/>
<rect x="139" y="432" width="3" height="31" fill="#c0c0c0"/>
<rect x="143" y="432" width="3" height="30" fill="#c0c0c0"/>
<rect x="147" y="432" width="3" height="29" fill="#c0c0c0"/>
<rect x="151" y="432" width="3" height="27" fill="#c0c0c0"/>
<rect x="155" y="432" width="3" height="24" fill="#c0c0c0"/>
<rect x="159" y="432" width="3" height="20" fill="#c0c0c0"/>
<rect x="163" y="432" width="3" height="14" fill="#c0c0c0"/>
<rect x="167" y="432" width="3" height="8" fill="#c0c0c0"/>
<rect x="171" y="432" width="3" height="2" fill="#c0c0c0"/>
<rect x="175" y="427" width="3" height="5" fill="#c0c0c0"/>
<rect x="179" y="422" width="3" height="10" fill="#c0c0c0"/>
<rect x="183" y="418" width="3" height="14" fill="#c0c0c0"/>
<rect x="187" y="415" width="3" height="17" fill="#c0c0c0"/>
<rect x="191" y="415" width="3" height="17" fill="#c0c0c0"/>
<rect x="195" y="415" width="3" height="17" fill="#c0c0c0"/>
<rect x="199" y="414" width="3" height="18" fill="#c0c0c0"/>
<rect x="203" y="414" width="3" height="18" fill="#c0c0c0"/>
<rect x="207" y="413" width="3" height="19" fill="#c0c0c0"/>
<rect x="211" y="413" width="3" height="19" fill="#c0c0c0"/>
<rect x="215" y="413" width="3" height="19" fill="#c0c0c0"/>
<rect x="219" y="413" width="3" height="19" fill="#c0c0c0"/>
<rect x="223" y="413" width="3" height="19" fill="#c0c0c0"/>
<rect x="227" y="412" width="3" height="20" fill="#c0c0c0"/>
<rect x="231" y="412" width="3" height="20" fill="#c0c0c0"/>
<rect x="235" y="413" width="3" height="19" fill="#c0c0c0"/>
<rect x="239" y="414" width="3" height="18" fill="#c0c0c0"/>
<rect x="243" y="416" width="3" height="16" fill="#c0c0c0"/>
<rect x="247" y="418" width="3" height="14" fill="#c0c0c0"/>
<rect x="251" y="418" width="3" height="14" fill="#c0c0c0"/>
<rect x="255" y="417" width="3" height="15" fill="#c0c0c0"/>
<rect x="259" y="417" width="3" height="15" fill="#c0c0c0"/>
<rect x="263" y="419" width="3" height="13" fill="#c0c0c0"/>
<rect x="267" y="420" width="3" height="12" fill="#c0c0c0"/>
<rect x="271" y="421" width="3" height="11" fill="#c0c0c0"/>
<rect x="275" y="421" width="3" height="11" fill="#c0c0c0"/>
<rect x="279" y="416" width="3" height="16" fill="#c0c0c0"/>
<rect x="283" y="417" width="3" height="15" fill="#c0c0c0"/>
<rect x="287" y="421" width="3" height="11" fill="#c0c0c0"/>
<rect x="291" y="423" width="3" height="9" fill="#c0c0c0"/>
<rect x="295" y="425" width="3" height="7" fill="#c0c0c0"/>
<rect x="299" y="427" width="3" height="5" fill="#c0c0c0"/>
<rect x="303" y="429" width="3" height="3" fill="#c0c0c0"/>
<rect x="307" y="430" width="3" height="2" fill="#c0c0c0"/>
<rect x="311" y="430" width="3" height="2" fill="#c0c0c0"/>
<rect x="315" y="428" width="3" height="4" fill="#c0c0c0"/>
<rect x="319" y="427" width="3" height="5" fill="#c0c0c0"/>
<rect x="323" y="428" width="3" height="4" fill="#c0c0c0"/>
<rect x="327" y="427" width="3" height="5" fill="#c0c0c0"/>
<rect x="331" y="428" width="3" height="4" fill="#c0c0c0"/>
<rect x="335" y="428" width="3" height="4" fill="#c0c0c0"/>
<rect x="339" y="427" width="3" height="5" fill="#c0c0c0"/>
<rect x="343" y="426" width="3" height="6" fill="#c0c0c0"/>
<rect x="347" y="424" width="3" height="8" fill="#c0c0c0"/>
<rect x="351" y="423" width="3" height="9" fill="#c0c0c0"/>
<rect x="355" y="424" width="3" height="8" fill="#c0c0c0"/>
<rect x="359" y="426" width="3" height="6" fill="#c0c0c0"/>
<rect x="363" y="428" width="3" height="4" fill="#c0c0c0"/>
<rect x="367" y="428" width="3" height="4" fill="#c0c0c0"/>
<rect x="371" y="431" width="3" height="1" fill="#c0c0c0"/>
<rect x="375" y="432" width="3" height="2" fill="#c0c0c0"/>
<rect x="379" y="432" width="3" height="4" fill="#c0c0c0"/>
<rect x="383" y="432" width="3" height="6" fill="#c0c0c0"/>
<rect x="387" y="432" width="3" height="8" fill="#c0c0c0"/>
<rect x="391" y="432" width="3" height="10" fill="#c0c0c0"/>
<rect x="395" y="432" width="3" height="11" fill="#c0c0c0"/>
<rect x="399" y="432" width="3" height="10" fill="#c0c0c0"/>
<rect x="403" y="432" width="3" height="10" fill="#c0c0c0"/>
<rect x="407" y="432" width="3" height="10" fill="#c0c0c0"/>
<rect x="411" y="432" width="3" height="11" fill="#c0c0c0"/>
<rect x="415" y="432" width="3" height="12" fill="#c0c0c0"/>
<rect x="419" y="432" width="3" height="13" fill="#c0c0c0"/>
<rect x="423" y="432" width="3" height="15" fill="#c0c0c0"/>
<rect x="427" y="432" width="3" height="13" fill="#c0c0c0"/>
<rect x="431" y="432" width="3" height="10" fill="#c0c0c0"/>
<rect x="435" y="432" width="3" height="6" fill="#c0c0c0"/>
<rect x="439" y="432" width="3" height="2" fill="#c0c0c0"/>
<rect x="443" y="432" width="3" height="2" fill="#c0c0c0"/>
<rect x="447" y="432" width="3" height="2" fill="#c0c0c0"/>
<rect x="451" y="432" width="3" height="2" fill="#c0c0c0"/>
<rect x="455" y="432" width="3" height="1" fill="#c0c0c0"/>
<rect x="459" y="431" width="3" height="1" fill="#c0c0c0"/>
<rect x="463" y="430" width="3" height="2" fill="#c0c0c0"/>
<rect x="467" y="432" width="3" height="1" fill="#c0c0c0"/>
<rect x="471" y="432" width="3" height="4" fill="#c0c0c0"/>
<rect x="475" y="432" width="3" height="5" fill="#c0c0c0"/>
<rect x="479" y="432" width="3" height="6" fill="#c0c0c0"/>
<rect x="483" y="432" width="3" height="5" fill="#c0c0c0"/>
<rect x="487" y="432" width="3" height="6" fill="#c0c0c0"/>
<rect x="491" y="432" width="3" height="6" fill="#c0c0c0"/>
<rect x="495" y="432" width="3" height="5" fill="#c0c0c0"/>
<rect x="499" y="432" width="3" height="6" fill="#c0c0c0"/>
<rect x="503" y="432" width="3" height="8" fill="#c0c0c0"/>
<rect x="507" y="432" width="3" height="9" fill="#c0c0c0"/>
<rect x="511" y="432" width="3" height="10" fill="#c0c0c0"/>
<rect x="515" y="432" width="3" height="11" fill="#c0c0c0"/>
<rect x="519" y="432" width="3" height="18" fill="#c0c0c0"/>
<rect x="523" y="432" width="3" height="21" fill="#c0c0c0"/>
<rect x="527" y="432" width="3" height="24" fill="#c0c0c0"/>
<rect x="531" y="432" width="3" height="26" fill="#c0c0c0"/>
<rect x="535" y="432" width="3" height="28" fill="#c0c0c0"/>
<rect x="539" y="432" width="3" height="30" fill="#c0c0c0"/>
<rect x="543" y="432" width="3" height="29" fill="#c0c0c0"/>
<rect x="547" y="432" width="3" height="29" fill="#c0c0c0"/>
<rect x="551" y="432" width="3" height="26" fill="#c0c0c0"/>
<rect x="555" y="432" width="3" height="24" fill="#c0c0c0"/>
<rect x="559" y="432" width="3" height="23" fill="#c0c0c0"/>
<rect x="563" y="432" width="3" height="22" fill="#c0c0c0"/>
<rect x="567" y="432" width="3" height="21" fill="#c0c0c0"/>
<rect x="571" y="432" width="3" height="20" fill="#c0c0c0"/>
<rect x="575" y="432" width="3" height="20" fill="#c0c0c0"/>
<rect x="579" y="432" width="3" height="19" fill="#c0c0c0"/>
<rect x="583" y="432" width="3" height="18" fill="#c0c0c0"/>
<rect x="587" y="432" width="3" height="17" fill="#c0c0c0"/>
<rect x="591" y="432" width="3" height="17" fill="#c0c0c0"/>
<rect x="595" y="432" width="3" height="17" fill="#c0c0c0"/>
<rect x="599" y="432" width="3" height="16" fill="#c0c0c0"/>
<rect x="603" y="432" width="3" height="17" fill="#c0c0c0"/>
<rect x="607" y="432" width="3" height="17" fill="#c0c0c0"/>
<rect x="611" y="432" width="3" height="15" fill="#c0c0c0"/>
<rect x="615" y="432" width="3" height="15" fill="#c0c0c0"/>
<rect x="619" y="432" width="3" height="13" fill="#c0c0c0"/>
<rect x="623" y="432" width="3" height="11" fill="#c0c0c0"/>
<rect x="627" y="432" width="3" height="11" fill="#c0c0c0"/>
<rect x="631" y="432" width="3" height="9" fill="#c0c0c0"/>
<rect x="635" y="432" width="3" height="9" fill="#c0c0c0"/>
<rect x="639" y="432" width="3" height="11" fill="#c0c0c0"/>
<rect x="643" y="432" width="3" height="12" fill="#c0c0c0"/>
<rect x="647" y="432" width="3" height="13" fill="#c0c0c0"/>
<rect x="651" y="432" width="3" height="13" fill="#c0c0c0"/>
<rect x="655" y="432" width="3" height="12" fill="#c0c0c0"/>
<rect x="659" y="432" width="3" height="13" fill="#c0c0c0"/>
<rect x="663" y="432" width="3" height="16" fill="#c0c0c0"/>
<rect x="667" y="432" width="3" height="15" fill="#c0c0c0"/>
<rect x="671" y="432" width="3" height="13" fill="#c0c0c0"/>
<rect x="675" y="432" width="3" height="13" fill="#c0c0c0"/>
<rect x="679" y="432" width="3" height="12" fill="#c0c0c0"/>
<rect x="683" y="432" width="3" height="11" fill="#c0c0c0"/>
<rect x="687" y="432" width="3" height="9" fill="#c0c0c0"/>
<rect x="691" y="432" width="3" height="8" fill="#c0c0c0"/>
<rect x="695" y="432" width="3" height="6" fill="#c0c0c0"/>
<rect x="699" y="432" width="3" height="5" fill="#c0c0c0"/>
<rect x="703" y="432" width="3" height="5" fill="#c0c0c0"/>
<rect x="707" y="432" width="3" height="5" fill="#c0c0c0"/>
<rect x="711" y="432" width="3" height="5" fill="#c0c0c0"/>
<rect x="715" y="432" width="3" height="5" fill="#c0c0c0"/>
<rect x="719" y="432" width="3" height="5" fill="#c0c0c0"/>
<rect x="723" y="432" width="3" height="5" fill="#c0c0c0"/>
<rect x="727" y="432" width="3" height="5" fill="#c0c0c0"/>
<rect x="731" y="432" width="3" height="5" fill="#c0c0c0"/>
<rect x="735" y="432" width="3" height="5" fill="#c0c0c0"/>
<rect x="739" y="432" width="3" height="5" fill="#c0c0c0"/>
<rect x="743" y="432" width="3" height="4" fill="#c0c0c0"/>
<rect x="747" y="432" width="3" height="2" fill="#c0c0c0"/>
<rect x="751" y="432" width="3" height="2" fill="#c0c0c0"/>
<rect x="755" y="432" width="3" height="1" fill="#c0c0c0"/>
<rect x="759" y="432" width="3" height="1" fill="#c0c0c0"/>
<rect x="763" y="432" width="3" height="2" fill="#c0c0c0"/>
<rect x="767" y="432" width="3" height="4" fill="#c0c0c0"/>
<rect x="771" y="432" width="3" height="6" fill="#c0c0c0"/>
<rect x="775" y="432" width="3" height="8" fill="#c0c0c0"/>
<rect x="779" y="432" width="3" height="8" fill="#c0c0c0"/>
<rect x="783" y="432" width="3" height="9" fill="#c0c0c0"/>
<rect x="787" y="432" width="3" height="10" fill="#c0c0c0"/>
<rect x="791" y="432" width="3" height="12" fill="#c0c0c0"/>
<rect x="795" y="432" width="3" height="14" fill="#c0c0c0"/>
<rect x="799" y="432" width="3" height="16" fill="#c0c0c0"/>
<rect x="803" y="432" width="3" height="16" fill="#c0c0c0"/>
<rect x="807" y="432" width="3" height="12" fill="#c0c0c0"/>
<rect x="811" y="432" width="3" height="10" fill="#c0c0c0"/>
<rect x="815" y="432" width="3" height="7" fill="#c0c0c0"/>
<rect x="819" y="432" width="3" height="5" fill="#c0c0c0"/>
<rect x="823" y="432" width="3" height="5" fill="#c0c0c0"/>
<rect x="827" y="432" width="3" height="6" fill="#c0c0c0"/>
<rect x="831" y="432" width="3" height="5" fill="#c0c0c0"/>
<rect x="835" y="432" width="3" height="4" fill="#c0c0c0"/>
<rect x="839" y="432" width="3" height="2" fill="#c0c0c0"/>
<rect x="843" y="432" width="3" height="2" fill="#c0c0c0"/>
<rect x="847" y="432" width="3" height="2" fill="#c0c0c0"/>
<rect x="851" y="432" width="3" height="2" fill="#c0c0c0"/>
<rect x="855" y="432" width="3" height="2" fill="#c0c0c0"/>
<rect x="859" y="432" width="3" height="4" fill="#c0c0c0"/>
<rect x="863" y="432" width="3" height="7" fill="#c0c0c0"/>
<rect x="867" y="432" width="3" height="9" fill="#c0c0c0"/>
<rect x="871" y="432" width="3" height="11" fill="#c0c0c0"/>
<rect x="875" y="432" width="3" height="13" fill="#c0c0c0"/>
<rect x="879" y="432" width="3" height="14" fill="#c0c0c0"/>
<rect x="883" y="432" width="3" height="16" fill="#c0c0c0"/>
<rect x="887" y="432" width="3" height="17" fill="#c0c0c0"/>
<rect x="891" y="432" width="3" height="18" fill="#c0c0c0"/>
<rect x="895" y="432" width="3" height="19" fill="#c0c0c0"/>
<rect x="899" y="432" width="3" height="19" fill="#c0c0c0"/>
<rect x="903" y="432" width="3" height="18" fill="#c0c0c0"/>
<rect x="907" y="432" width="3" height="17" fill="#c0c0c0"/>
<rect x="911" y="432" width="3" height="16" fill="#c0c0c0"/>
<rect x="915" y="432" width="3" height="15" fill="#c0c0c0"/>
<rect x="919" y="432" width="3" height="14" fill="#c0c0c0"/>
<rect x="923" y="432" width="3" height="13" fill="#c0c0c0"/>
</g>
<path d="M224 413h29v1h-29zM213 414h11v1h-11zM253 414h6v1h-6zM210 415h3v1h-3zM259 415h3v1h-3zM209 416h1v1h-1zM262 416h3v1h-3zM207 417h2v1h-2zM265 417h7v1h-7zM4 418h2v1h-2zM205 418h2v1h-2zM272 418h13v1h-13zM6 419h1v1h-1zM204 419h1v1h-1zM285 419h10v1h-10zM7 420h1v1h-1zM203 420h1v1h-1zM295 420h4v1h-4zM8 421h1v1h-1zM202 421h1v1h-1zM299 421h4v1h-4zM9 422h1v1h-1zM201 422h1v1h-1zM303 422h4v1h-4zM10 423h1v1h-1zM199 423h2v1h-2zM307 423h4v1h-4zM11 424h1v1h-1zM198 424h1v1h-1zM311 424h3v1h-3zM12 425h2v1h-2zM197 425h1v1h-1zM314 425h3v1h-3zM14 426h1v1h-1zM196 426h1v1h-1zM317 426h2v1h-2zM349 426h25v1h-25zM15 427h1v1h-1zM195 427h1v1h-1zM319 427h7v1h-7zM346 427h3v1h-3zM374 427h6v1h-6zM16 428h1v1h-1zM194 428h1v1h-1zM326 428h20v1h-20zM380 428h3v1h-3zM17 429h1v1h-1zM193 429h1v1h-1zM383 429h2v1h-2zM18 430h1v1h-1zM192 430h1v1h-1zM385 430h3v1h-3zM19 431h2v1h-2zM190 431h2v1h-2zM388 431h3v1h-3zM21 432h1v1h-1zM189 432h1v1h-1zM391 432h2v1h-2zM465 432h16v1h-16zM22 433h1v1h-1zM188 433h1v1h-1zM393 433h3v1h-3zM463 433h2v1h-2zM481 433h5v1h-5zM23 434h1v1h-1zM187 434h1v1h-1zM396 434h2v1h-2zM460 434h3v1h-3zM486 434h6v1h-6zM762 434h13v1h-13zM853 434h11v1h-11zM24 435h1v1h-1zM186 435h1v1h-1zM398 435h3v1h-3zM458 435h2v1h-2zM492 435h6v1h-6zM751 435h11v1h-11zM775 435h7v1h-7zM848 435h5v1h-5zM864 435h8v1h-8zM25 436h1v1h-1zM185 436h1v1h-1zM401 436h2v1h-2zM455 436h3v1h-3zM498 436h5v1h-5zM746 436h5v1h-5zM782 436h4v1h-4zM843 436h5v1h-5zM872 436h4v1h-4zM26 437h2v1h-2zM184 437h1v1h-1zM403 437h3v1h-3zM453 437h3v1h-3zM503 437h6v1h-6zM718 437h28v1h-28zM786 437h4v1h-4zM841 437h2v1h-2zM876 437h3v1h-3zM28 438h1v1h-1zM183 438h1v1h-1zM406 438h3v1h-3zM449 438h4v1h-4zM509 438h9v1h-9zM713 438h5v1h-5zM790 438h4v1h-4zM838 438h3v1h-3zM879 438h2v1h-2zM29 439h1v1h-1zM183 439h1v1h-1zM409 439h4v1h-4zM445 439h4v1h-4zM518 439h3v1h-3zM706 439h7v1h-7zM794 439h3v1h-3zM835 439h3v1h-3zM881 439h3v1h-3zM30 440h1v1h-1zM182 440h1v1h-1zM413 440h4v1h-4zM441 440h4v1h-4zM521 440h2v1h-2zM701 440h5v1h-5zM797 440h2v1h-2zM830 440h5v1h-5zM884 440h3v1h-3zM31 441h2v1h-2zM181 441h1v1h-1zM417 441h4v1h-4zM437 441h4v1h-4zM523 441h3v1h-3zM697 441h4v1h-4zM799 441h3v1h-3zM826 441h4v1h-4zM887 441h3v1h-3zM33 442h1v1h-1zM180 442h1v1h-1zM421 442h16v1h-16zM526 442h1v1h-1zM643 442h20v1h-20zM694 442h3v1h-3zM802 442h5v1h-5zM822 442h4v1h-4zM890 442h2v1h-2zM34 443h1v1h-1zM180 443h1v1h-1zM527 443h2v1h-2zM637 443h6v1h-6zM663 443h3v1h-3zM690 443h4v1h-4zM807 443h15v1h-15zM892 443h3v1h-3zM35 444h2v1h-2zM179 444h1v1h-1zM529 444h2v1h-2zM633 444h4v1h-4zM666 444h24v1h-24zM895 444h2v1h-2zM37 445h3v1h-3zM178 445h1v1h-1zM531 445h1v1h-1zM628 445h5v1h-5zM897 445h3v1h-3zM40 446h2v1h-2zM177 446h1v1h-1zM532 446h2v1h-2zM622 446h6v1h-6zM900 446h4v1h-4zM42 447h3v1h-3zM177 447h1v1h-1zM534 447h1v1h-1zM616 447h6v1h-6zM904 447h6v1h-6zM45 448h2v1h-2zM176 448h1v1h-1zM535 448h2v1h-2zM611 448h5v1h-5zM910 448h15v1h-15zM47 449h3v1h-3zM175 449h1v1h-1zM537 449h1v1h-1zM600 449h11v1h-11zM50 450h2v1h-2zM174 450h1v1h-1zM538 450h2v1h-2zM595 450h5v1h-5zM52 451h2v1h-2zM173 451h1v1h-1zM540 451h1v1h-1zM590 451h5v1h-5zM54 452h2v1h-2zM172 452h1v1h-1zM541 452h3v1h-3zM586 452h4v1h-4zM56 453h2v1h-2zM171 453h1v1h-1zM544 453h2v1h-2zM581 453h5v1h-5zM58 454h2v1h-2zM170 454h1v1h-1zM546 454h2v1h-2zM577 454h4v1h-4zM60 455h4v1h-4zM169 455h1v1h-1zM548 455h2v1h-2zM573 455h4v1h-4zM64 456h4v1h-4zM167 456h2v1h-2zM550 456h3v1h-3zM569 456h4v1h-4zM68 457h4v1h-4zM166 457h1v1h-1zM553 457h6v1h-6zM560 457h9v1h-9zM72 458h5v1h-5zM164 458h2v1h-2zM559 458h1v1h-1zM77 459h4v1h-4zM163 459h1v1h-1zM81 460h10v1h-10zM92 460h11v1h-11zM161 460h2v1h-2zM91 461h1v1h-1zM103 461h5v1h-5zM160 461h1v1h-1zM108 462h3v1h-3zM158 462h2v1h-2zM111 463h5v1h-5zM156 463h2v1h-2zM116 464h4v1h-4zM154 464h2v1h-2zM120 465h2v1h-2zM152 465h2v1h-2zM122 466h3v1h-3zM149 466h3v1h-3zM125 467h2v1h-2zM146 467h3v1h-3zM127 468h5v1h-5zM142 468h4v1h-4zM132 469h10v1h-10z" fill="#ff0000"/>
<clipPath id="c3"><rect x="4" y="480" width="1162" height="70"/></clipPath>
<line x1="5" y1="501.5" x2="1166" y2="501.5" stroke="#c0c0c0" stroke-width="1" stroke-dasharray="3 3"/>
<line x1="5" y1="529.5" x2="1166" y2="529.5" stroke="#c0c0c0" stroke-width="1" stroke-dasharray="3 3"/>
<path d="M179 503h8v1h-8zM280 503h1v1h-1zM177 504h2v1h-2zM187 504h2v1h-2zM228 504h2v1h-2zM279 504h2v1h-2zM175 505h2v1h-2zM189 505h1v1h-1zM226 505h2v1h-2zM230 505h1v1h-1zM279 505h1v1h-1zM281 505h1v1h-1zM171 506h4v1h-4zM190 506h2v1h-2zM207 506h6v1h-6zM221 506h1v1h-1zM225 506h1v1h-1zM231 506h2v1h-2zM256 506h2v1h-2zM278 506h1v1h-1zM281 506h1v1h-1zM168 507h3v1h-3zM192 507h1v1h-1zM199 507h8v1h-8zM213 507h1v1h-1zM219 507h2v1h-2zM222 507h3v1h-3zM233 507h2v1h-2zM255 507h1v1h-1zM258 507h2v1h-2zM278 507h1v1h-1zM282 507h1v1h-1zM166 508h2v1h-2zM193 508h6v1h-6zM214 508h1v1h-1zM218 508h1v1h-1zM235 508h6v1h-6zM254 508h2v1h-2zM259 508h1v1h-1zM277 508h1v1h-1zM282 508h1v1h-1zM165 509h1v1h-1zM215 509h1v1h-1zM217 509h1v1h-1zM237 509h1v1h-1zM240 509h2v1h-2zM253 509h1v1h-1zM260 509h1v1h-1zM277 509h1v1h-1zM283 509h1v1h-1zM340 509h1v1h-1zM347 509h6v1h-6zM436 509h5v1h-5zM748 509h1v1h-1zM164 510h1v1h-1zM216 510h1v1h-1zM242 510h1v1h-1zM253 510h1v1h-1zM261 510h1v1h-1zM276 510h1v1h-1zM283 510h1v1h-1zM339 510h1v1h-1zM341 510h1v1h-1zM346 510h1v1h-1zM353 510h1v1h-1zM434 510h2v1h-2zM441 510h1v1h-1zM747 510h1v1h-1zM749 510h1v1h-1zM164 511h1v1h-1zM242 511h1v1h-1zM252 511h1v1h-1zM261 511h1v1h-1zM273 511h4v1h-4zM284 511h1v1h-1zM317 511h3v1h-3zM339 511h1v1h-1zM342 511h2v1h-2zM345 511h1v1h-1zM353 511h1v1h-1zM433 511h1v1h-1zM442 511h1v1h-1zM463 511h2v1h-2zM746 511h2v1h-2zM750 511h1v1h-1zM814 511h5v1h-5zM163 512h1v1h-1zM243 512h1v1h-1zM250 512h2v1h-2zM262 512h1v1h-1zM269 512h4v1h-4zM284 512h1v1h-1zM314 512h3v1h-3zM320 512h2v1h-2zM338 512h1v1h-1zM344 512h1v1h-1zM354 512h2v1h-2zM432 512h1v1h-1zM443 512h1v1h-1zM461 512h2v1h-2zM464 512h1v1h-1zM746 512h1v1h-1zM751 512h1v1h-1zM808 512h6v1h-6zM819 512h2v1h-2zM163 513h1v1h-1zM243 513h1v1h-1zM249 513h1v1h-1zM262 513h1v1h-1zM266 513h3v1h-3zM285 513h1v1h-1zM312 513h2v1h-2zM322 513h2v1h-2zM326 513h4v1h-4zM337 513h1v1h-1zM355 513h1v1h-1zM431 513h1v1h-1zM444 513h2v1h-2zM460 513h1v1h-1zM464 513h2v1h-2zM746 513h1v1h-1zM752 513h3v1h-3zM808 513h1v1h-1zM821 513h1v1h-1zM839 513h3v1h-3zM850 513h3v1h-3zM162 514h1v1h-1zM244 514h5v1h-5zM263 514h1v1h-1zM265 514h2v1h-2zM286 514h1v1h-1zM311 514h1v1h-1zM324 514h2v1h-2zM330 514h7v1h-7zM356 514h1v1h-1zM367 514h2v1h-2zM429 514h2v1h-2zM446 514h2v1h-2zM458 514h2v1h-2zM465 514h1v1h-1zM691 514h6v1h-6zM745 514h1v1h-1zM755 514h5v1h-5zM807 514h1v1h-1zM822 514h1v1h-1zM832 514h3v1h-3zM836 514h3v1h-3zM842 514h2v1h-2zM845 514h5v1h-5zM853 514h1v1h-1zM162 515h1v1h-1zM264 515h1v1h-1zM287 515h1v1h-1zM310 515h1v1h-1zM357 515h1v1h-1zM366 515h1v1h-1zM369 515h1v1h-1zM428 515h1v1h-1zM448 515h7v1h-7zM457 515h1v1h-1zM466 515h1v1h-1zM496 515h4v1h-4zM631 515h2v1h-2zM689 515h2v1h-2zM697 515h2v1h-2zM745 515h1v1h-1zM760 515h1v1h-1zM807 515h1v1h-1zM823 515h1v1h-1zM831 515h1v1h-1zM835 515h1v1h-1zM844 515h1v1h-1zM854 515h1v1h-1zM157 516h3v1h-3zM161 516h1v1h-1zM287 516h1v1h-1zM290 516h13v1h-13zM309 516h1v1h-1zM358 516h2v1h-2zM365 516h1v1h-1zM369 516h1v1h-1zM428 516h1v1h-1zM455 516h2v1h-2zM466 516h1v1h-1zM482 516h5v1h-5zM494 516h2v1h-2zM500 516h1v1h-1zM622 516h4v1h-4zM629 516h2v1h-2zM632 516h2v1h-2zM686 516h4v1h-4zM699 516h1v1h-1zM728 516h1v1h-1zM738 516h7v1h-7zM760 516h1v1h-1zM807 516h1v1h-1zM824 516h1v1h-1zM830 516h1v1h-1zM855 516h1v1h-1zM156 517h1v1h-1zM160 517h2v1h-2zM288 517h2v1h-2zM303 517h6v1h-6zM360 517h5v1h-5zM370 517h1v1h-1zM400 517h6v1h-6zM427 517h1v1h-1zM467 517h1v1h-1zM476 517h3v1h-3zM480 517h2v1h-2zM487 517h3v1h-3zM494 517h1v1h-1zM501 517h1v1h-1zM618 517h4v1h-4zM626 517h3v1h-3zM634 517h1v1h-1zM668 517h8v1h-8zM683 517h3v1h-3zM700 517h15v1h-15zM726 517h2v1h-2zM729 517h1v1h-1zM737 517h2v1h-2zM761 517h1v1h-1zM806 517h1v1h-1zM825 517h1v1h-1zM829 517h1v1h-1zM856 517h1v1h-1zM154 518h2v1h-2zM371 518h1v1h-1zM373 518h5v1h-5zM399 518h1v1h-1zM406 518h2v1h-2zM427 518h1v1h-1zM467 518h1v1h-1zM475 518h1v1h-1zM479 518h1v1h-1zM490 518h2v1h-2zM493 518h1v1h-1zM502 518h1v1h-1zM552 518h1v1h-1zM585 518h3v1h-3zM612 518h6v1h-6zM635 518h1v1h-1zM668 518h1v1h-1zM676 518h7v1h-7zM715 518h7v1h-7zM725 518h1v1h-1zM730 518h1v1h-1zM736 518h1v1h-1zM762 518h1v1h-1zM806 518h1v1h-1zM826 518h2v1h-2zM829 518h1v1h-1zM856 518h1v1h-1zM153 519h1v1h-1zM372 519h1v1h-1zM378 519h1v1h-1zM397 519h2v1h-2zM408 519h2v1h-2zM426 519h1v1h-1zM468 519h1v1h-1zM474 519h1v1h-1zM492 519h1v1h-1zM502 519h1v1h-1zM551 519h1v1h-1zM553 519h2v1h-2zM559 519h3v1h-3zM569 519h5v1h-5zM584 519h1v1h-1zM588 519h2v1h-2zM600 519h1v1h-1zM611 519h1v1h-1zM636 519h1v1h-1zM667 519h1v1h-1zM722 519h2v1h-2zM725 519h1v1h-1zM730 519h1v1h-1zM734 519h2v1h-2zM762 519h1v1h-1zM806 519h1v1h-1zM828 519h1v1h-1zM857 519h1v1h-1zM912 519h3v1h-3zM41 520h5v1h-5zM65 520h2v1h-2zM141 520h2v1h-2zM153 520h1v1h-1zM379 520h1v1h-1zM396 520h1v1h-1zM410 520h1v1h-1zM426 520h1v1h-1zM469 520h2v1h-2zM473 520h1v1h-1zM503 520h1v1h-1zM507 520h8v1h-8zM550 520h1v1h-1zM555 520h1v1h-1zM557 520h2v1h-2zM562 520h7v1h-7zM574 520h2v1h-2zM582 520h2v1h-2zM590 520h1v1h-1zM598 520h2v1h-2zM601 520h1v1h-1zM609 520h2v1h-2zM637 520h2v1h-2zM667 520h1v1h-1zM724 520h1v1h-1zM731 520h1v1h-1zM733 520h1v1h-1zM763 520h1v1h-1zM806 520h1v1h-1zM858 520h1v1h-1zM910 520h2v1h-2zM915 520h7v1h-7zM40 521h1v1h-1zM45 521h1v1h-1zM64 521h1v1h-1zM67 521h2v1h-2zM85 521h4v1h-4zM90 521h3v1h-3zM129 521h2v1h-2zM139 521h2v1h-2zM143 521h3v1h-3zM152 521h1v1h-1zM380 521h8v1h-8zM395 521h1v1h-1zM411 521h1v1h-1zM415 521h3v1h-3zM426 521h1v1h-1zM471 521h1v1h-1zM473 521h1v1h-1zM504 521h3v1h-3zM515 521h1v1h-1zM550 521h1v1h-1zM556 521h1v1h-1zM565 521h1v1h-1zM576 521h2v1h-2zM581 521h1v1h-1zM591 521h2v1h-2zM597 521h1v1h-1zM602 521h1v1h-1zM607 521h2v1h-2zM639 521h1v1h-1zM651 521h7v1h-7zM667 521h1v1h-1zM732 521h1v1h-1zM764 521h6v1h-6zM781 521h1v1h-1zM805 521h1v1h-1zM858 521h1v1h-1zM904 521h3v1h-3zM908 521h2v1h-2zM922 521h2v1h-2zM7 522h3v1h-3zM39 522h1v1h-1zM46 522h2v1h-2zM63 522h1v1h-1zM69 522h3v1h-3zM83 522h2v1h-2zM89 522h1v1h-1zM93 522h2v1h-2zM128 522h1v1h-1zM131 522h2v1h-2zM138 522h1v1h-1zM146 522h2v1h-2zM150 522h2v1h-2zM388 522h2v1h-2zM394 522h1v1h-1zM412 522h3v1h-3zM418 522h2v1h-2zM425 522h1v1h-1zM472 522h1v1h-1zM504 522h1v1h-1zM516 522h1v1h-1zM544 522h3v1h-3zM549 522h1v1h-1zM578 522h3v1h-3zM592 522h5v1h-5zM603 522h1v1h-1zM605 522h2v1h-2zM640 522h1v1h-1zM644 522h7v1h-7zM658 522h1v1h-1zM666 522h1v1h-1zM770 522h2v1h-2zM779 522h2v1h-2zM782 522h3v1h-3zM805 522h1v1h-1zM859 522h1v1h-1zM902 522h2v1h-2zM907 522h2v1h-2zM4 523h3v1h-3zM10 523h2v1h-2zM21 523h2v1h-2zM38 523h1v1h-1zM48 523h1v1h-1zM62 523h2v1h-2zM72 523h7v1h-7zM82 523h1v1h-1zM95 523h1v1h-1zM127 523h1v1h-1zM133 523h5v1h-5zM148 523h2v1h-2zM390 523h1v1h-1zM393 523h1v1h-1zM420 523h2v1h-2zM425 523h1v1h-1zM517 523h1v1h-1zM543 523h1v1h-1zM547 523h2v1h-2zM604 523h1v1h-1zM641 523h3v1h-3zM659 523h2v1h-2zM666 523h1v1h-1zM772 523h2v1h-2zM778 523h1v1h-1zM785 523h3v1h-3zM805 523h1v1h-1zM860 523h1v1h-1zM901 523h1v1h-1zM12 524h2v1h-2zM19 524h2v1h-2zM23 524h1v1h-1zM32 524h6v1h-6zM49 524h1v1h-1zM62 524h1v1h-1zM79 524h3v1h-3zM96 524h1v1h-1zM126 524h1v1h-1zM391 524h2v1h-2zM422 524h3v1h-3zM517 524h2v1h-2zM542 524h1v1h-1zM661 524h1v1h-1zM666 524h1v1h-1zM774 524h2v1h-2zM777 524h1v1h-1zM788 524h3v1h-3zM804 524h1v1h-1zM861 524h3v1h-3zM866 524h4v1h-4zM888 524h1v1h-1zM899 524h2v1h-2zM14 525h2v1h-2zM17 525h2v1h-2zM24 525h2v1h-2zM31 525h1v1h-1zM49 525h1v1h-1zM61 525h1v1h-1zM81 525h1v1h-1zM97 525h2v1h-2zM123 525h3v1h-3zM424 525h1v1h-1zM518 525h1v1h-1zM524 525h7v1h-7zM541 525h1v1h-1zM662 525h1v1h-1zM665 525h1v1h-1zM776 525h1v1h-1zM791 525h1v1h-1zM804 525h1v1h-1zM864 525h2v1h-2zM870 525h2v1h-2zM875 525h4v1h-4zM887 525h1v1h-1zM889 525h2v1h-2zM896 525h3v1h-3zM16 526h1v1h-1zM26 526h2v1h-2zM29 526h2v1h-2zM50 526h1v1h-1zM61 526h1v1h-1zM99 526h3v1h-3zM121 526h2v1h-2zM518 526h1v1h-1zM523 526h1v1h-1zM531 526h4v1h-4zM540 526h1v1h-1zM663 526h1v1h-1zM665 526h1v1h-1zM792 526h2v1h-2zM804 526h1v1h-1zM872 526h3v1h-3zM879 526h3v1h-3zM886 526h1v1h-1zM891 526h1v1h-1zM893 526h3v1h-3zM28 527h1v1h-1zM50 527h1v1h-1zM60 527h1v1h-1zM102 527h2v1h-2zM120 527h1v1h-1zM519 527h1v1h-1zM522 527h1v1h-1zM535 527h6v1h-6zM664 527h2v1h-2zM794 527h1v1h-1zM802 527h2v1h-2zM881 527h1v1h-1zM886 527h1v1h-1zM892 527h1v1h-1zM51 528h1v1h-1zM60 528h1v1h-1zM104 528h1v1h-1zM119 528h1v1h-1zM519 528h1v1h-1zM522 528h1v1h-1zM665 528h1v1h-1zM795 528h2v1h-2zM801 528h1v1h-1zM882 528h2v1h-2zM885 528h1v1h-1zM51 529h1v1h-1zM58 529h2v1h-2zM105 529h4v1h-4zM118 529h1v1h-1zM520 529h2v1h-2zM797 529h4v1h-4zM884 529h1v1h-1zM52 530h1v1h-1zM54 530h4v1h-4zM109 530h2v1h-2zM116 530h2v1h-2zM520 530h1v1h-1zM53 531h1v1h-1zM111 531h2v1h-2zM114 531h2v1h-2zM113 532h1v1h-1z" fill="#1e90ff"/>
<path d="M10.5 32L14.5 36.5L6.5 36.5Z" fill="#000" shape-rendering="auto"/>
</svg>
<div class="t ax" style="top:35.45px">6.53090</div>
<div class="t ax" style="top:68.45px">6.50990</div>
<div class="t ax" style="top:101.45px">6.48890</div>
<div class="t ax" style="top:134.45px">6.46790</div>
<div class="t ax" style="top:167.45px">6.44750</div>
<div class="t ax" style="top:200.45px">6.42650</div>
<div class="t ax" style="top:233.45px">6.40550</div>
<div class="t ax" style="top:266.45px">6.38450</div>
<div class="t ax" style="top:299.45px">6.36350</div>
<div class="t ax" style="top:332.45px">6.34250</div>
<div class="t ax" style="top:365.45px">6.32150</div>
<div class="t ax" style="top:398.45px">6.30110</div>
<div class="t ax" style="top:410.5px;left:1169.6px">0.016586</div>
<div class="t ax" style="top:428.55px;left:1169.6px">0.00</div>
<div class="t ax" style="top:467.0px;left:1169.6px">-0.031427</div>
<div class="t ax" style="top:482.5px;left:1169.6px">100</div>
<div class="t ax" style="top:497.9px;left:1169.6px">70</div>
<div class="t ax" style="top:525.4px;left:1169.6px">30</div>
<div class="t ax" style="top:539.5px;left:1169.6px">0</div>
<div style="position:absolute;left:1168px;top:363px;width:38px;height:11px;background:#000"></div>
<div style="position:absolute;left:1168px;top:152px;width:38px;height:11px;background:#ff0000"></div>
<div class="t ax" style="top:153.4px;left:1171.8px;color:#fff">6.45527</div>
<div style="position:absolute;left:1168px;top:224px;width:38px;height:11px;background:#ff0000"></div>
<div class="t ax" style="top:225.4px;left:1171.8px;color:#fff">6.41013</div>
<div style="position:absolute;left:1168px;top:295px;width:38px;height:11px;background:#00ff00"></div>
<div class="t ax" style="top:296.4px;left:1171.8px;color:#fff">6.36500</div>
<div style="position:absolute;left:1168px;top:365px;width:38px;height:11px;background:#0000ff"></div>
<div class="t ax" style="top:366.4px;left:1171.8px;color:#fff">6.32060</div>
<div class="t" style="left:18.55px;top:29px;font-size:9.6px;color:#000;transform-origin:0 0;transform:scaleX(1.0133);">USDCNH-,Daily</div>
<div class="t" style="left:93.4px;top:29px;font-size:9.6px;color:#000;transform-origin:0 0;transform:scaleX(0.9654);">6.32331 6.32936 6.31710 6.32254</div>
<div class="t" style="left:8.21px;top:412.3px;font-size:9.4px;color:#000;transform-origin:0 0;transform:scaleX(0.993);">MACD(12,26,9) -0.008587 -0.010986</div>
<div class="t" style="left:7.65px;top:484.3px;font-size:9.4px;color:#000;transform-origin:0 0;transform:scaleX(0.9941);">RSI(14) 41.9122</div>
<div class="t dt" style="left:2.8px;transform-origin:0 0;transform:scaleX(1.0338)">21 Apr 2021</div>
<div class="t dt" style="left:67.15px;transform-origin:0 0;transform:scaleX(1.0279)">13 May 2021</div>
<div class="t dt" style="left:131.75px;transform-origin:0 0;transform:scaleX(0.9609)">4 Jun 2021</div>
<div class="t dt" style="left:195.2px;transform-origin:0 0;transform:scaleX(0.9819)">28 Jun 2021</div>
<div class="t dt" style="left:259.5px;transform-origin:0 0;transform:scaleX(0.9785)">20 Jul 2021</div>
<div class="t dt" style="left:323.25px;transform-origin:0 0;transform:scaleX(1.0352)">11 Aug 2021</div>
<div class="t dt" style="left:387.5px;transform-origin:0 0;transform:scaleX(0.9804)">2 Sep 2021</div>
<div class="t dt" style="left:450.9px;transform-origin:0 0;transform:scaleX(1.0039)">24 Sep 2021</div>
<div class="t dt" style="left:514.65px;transform-origin:0 0;transform:scaleX(1.0184)">18 Oct 2021</div>
<div class="t dt" style="left:578.5px;transform-origin:0 0;transform:scaleX(1.0587)">9 Nov 2021</div>
<div class="t dt" style="left:642.25px;transform-origin:0 0;transform:scaleX(1.0175)">1 Dec 2021</div>
<div class="t dt" style="left:706.5px;transform-origin:0 0;transform:scaleX(1.002)">23 Dec 2021</div>
<div class="t dt" style="left:770.75px;transform-origin:0 0;transform:scaleX(0.999)">14 Jan 2022</div>
<div class="t dt" style="left:834.9px;transform-origin:0 0;transform:scaleX(1.0154)">7 Feb 2022</div>
<div class="t dt" style="left:898.55px;transform-origin:0 0;transform:scaleX(1.0276)">1 Mar 2022</div>
<div style="position:absolute;left:5px;top:43px;width:223px;height:61px;background:#fff"></div>
<div style="position:absolute;left:7px;top:69px;width:109px;height:33px;box-sizing:border-box;border:1px solid #0a0aac;background:linear-gradient(#3030e2,#020298)"></div>
<div style="position:absolute;left:118px;top:69px;width:108px;height:33px;box-sizing:border-box;border:1px solid #0a0aac;background:linear-gradient(#3030e2,#020298)"></div>
<div style="position:absolute;left:7px;top:45px;width:52px;height:25px;box-sizing:border-box;border:1px solid #0a0aac;border-bottom:none;background:linear-gradient(#5c5cfa,#3232e4)"></div>
<div style="position:absolute;left:174px;top:45px;width:52px;height:25px;box-sizing:border-box;border:1px solid #0a0aac;border-bottom:none;background:linear-gradient(#5c5cfa,#3232e4)"></div>
<div style="position:absolute;left:11px;top:68px;width:44px;height:1px;background:#000094"></div>
<div style="position:absolute;left:11px;top:69px;width:44px;height:1px;background:#7878f4"></div>
<div style="position:absolute;left:178px;top:68px;width:44px;height:1px;background:#000094"></div>
<div style="position:absolute;left:178px;top:69px;width:44px;height:1px;background:#7878f4"></div>
<div style="position:absolute;left:61px;top:45px;width:111px;height:22px;background:#fff;border:1px solid #ababab;box-sizing:border-box"></div>
<div style="position:absolute;left:63px;top:47px;width:18.5px;height:18px;background:linear-gradient(#f3f3f3 0%,#e9e9e9 48%,#dadada 52%,#cdcdcd 100%)"></div>
<div style="position:absolute;left:82px;top:46px;width:1px;height:20px;background:#b0b0b0"></div>
<div style="position:absolute;left:151.5px;top:47px;width:19px;height:18px;background:linear-gradient(#f3f3f3 0%,#e9e9e9 48%,#dadada 52%,#cdcdcd 100%)"></div>
<div style="position:absolute;left:150px;top:46px;width:1px;height:20px;background:#b0b0b0"></div>
<svg width="1206" height="597" viewBox="0 0 1206 597"><path d="M69 54.3h5.2l-2.6 2.9z M157.9 57h5.4l-2.7-3z" fill="#4c5cb8"/></svg>
<div class="t" style="left:27px;top:87px;font-size:12.2px;font-weight:bold;color:#fff">6.32</div>
<div class="t" style="left:138px;top:87px;font-size:12.2px;font-weight:bold;color:#fff">6.32</div>
<div class="t" style="left:55px;top:68.2px;font-size:34px;color:#fff;transform-origin:0 0;transform:scaleX(0.94)">25</div>
<div class="t" style="left:164.6px;top:68.2px;font-size:34px;color:#fff;transform-origin:0 0;transform:scaleX(0.94)">48</div>
<div class="t" style="left:94px;top:71.9px;font-size:11.5px;font-weight:bold;color:#fff">4</div>
<div class="t" style="left:205.2px;top:71.4px;font-size:11.5px;font-weight:bold;color:#fff">6</div>
<div class="t" style="left:122.9px;top:49.5px;font-size:12px;color:#000;transform-origin:0 0;transform:scaleX(1.02);">1.00</div>
<div class="t" style="left:19.0px;top:50.5px;font-size:12px;color:#fff;transform-origin:0 0;transform:scaleX(0.879);">SELL</div>
<div class="t" style="left:186.9px;top:50.5px;font-size:12px;color:#fff;transform-origin:0 0;transform:scaleX(0.9936);">BUY</div>
<div style="position:absolute;left:0;top:571px;width:1206px;height:1px;background:#e6e6e6"></div>
<div style="position:absolute;left:0;top:572px;width:1206px;height:1px;background:#fff"></div>
<div style="position:absolute;left:0;top:573px;width:1206px;height:1px;background:#000"></div>
<div style="position:absolute;left:0;top:574px;width:1206px;height:19px;background:#f0f0f0"></div>
<div style="position:absolute;left:0;top:593px;width:1206px;height:1px;background:#fff"></div>
<div style="position:absolute;left:0;top:594px;width:1206px;height:3px;background:#f2f2f2"></div>
<div style="position:absolute;left:0;top:574px;width:1px;height:18px;background:#505050"></div>
<div style="position:absolute;left:1px;top:574px;width:1px;height:18px;background:#fff"></div>
<div style="position:absolute;left:537px;top:573px;width:111px;height:18px;background:#fff;border:1px solid #333;border-top:none"></div>
<div class="t tab" style="left:15.1px;color:#6a6a6a;transform-origin:0 0;transform:scaleX(1.04)">USDX,Weekly</div>
<div class="t tab" style="left:115.5px;color:#6a6a6a;transform-origin:0 0;transform:scaleX(1.0119)">EURUSD-,Daily</div>
<div class="t tab" style="left:223.5px;color:#6a6a6a;transform-origin:0 0;transform:scaleX(1.0235)">AUDUSD-,Daily</div>
<div class="t tab" style="left:332.8px;color:#6a6a6a;transform-origin:0 0;transform:scaleX(1.005)">USDCHF-,Daily</div>
<div class="t tab" style="left:440.4px;color:#6a6a6a;transform-origin:0 0;transform:scaleX(1.021)">USDCAD-,Daily</div>
<div class="t tab" style="left:548.9px;color:#000;transform-origin:0 0;transform:scaleX(1.034)">USDCNH-,Daily</div>
<div class="t tab" style="left:659.8px;color:#6a6a6a;transform-origin:0 0;transform:scaleX(1.041)">XAUUSD-,M5</div>
<div class="t tab" style="left:759.8px;color:#6a6a6a;transform-origin:0 0;transform:scaleX(1.062)">UKOil-,H1</div>
<div class="t tab" style="left:841.4px;color:#6a6a6a;transform-origin:0 0;transform:scaleX(1.03)">DJ30-,Daily</div>
<div class="t tab" style="left:928.0px;color:#6a6a6a;transform-origin:0 0;transform:scaleX(1.045)">UK100-,H1</div>
<div class="t tab" style="left:1012.5px;color:#6a6a6a;transform-origin:0 0;transform:scaleX(1.055)">USOil-,H1</div>
<div class="sep" style="left:105px"></div>
<div class="sep" style="left:213px"></div>
<div class="sep" style="left:321px"></div>
<div class="sep" style="left:429px"></div>
<div class="sep" style="left:749px"></div>
<div class="sep" style="left:829px"></div>
<div class="sep" style="left:917px"></div>
<div class="sep" style="left:1001px"></div>
<div class="sep" style="left:1081px"></div>
<svg width="1206" height="597" viewBox="0 0 1206 597"><path d="M1185.2 579l-3.4 3 3.4 3z M1200.8 579l3.4 3-3.4 3z" fill="#8c8c8c"/></svg>
</body></html>
